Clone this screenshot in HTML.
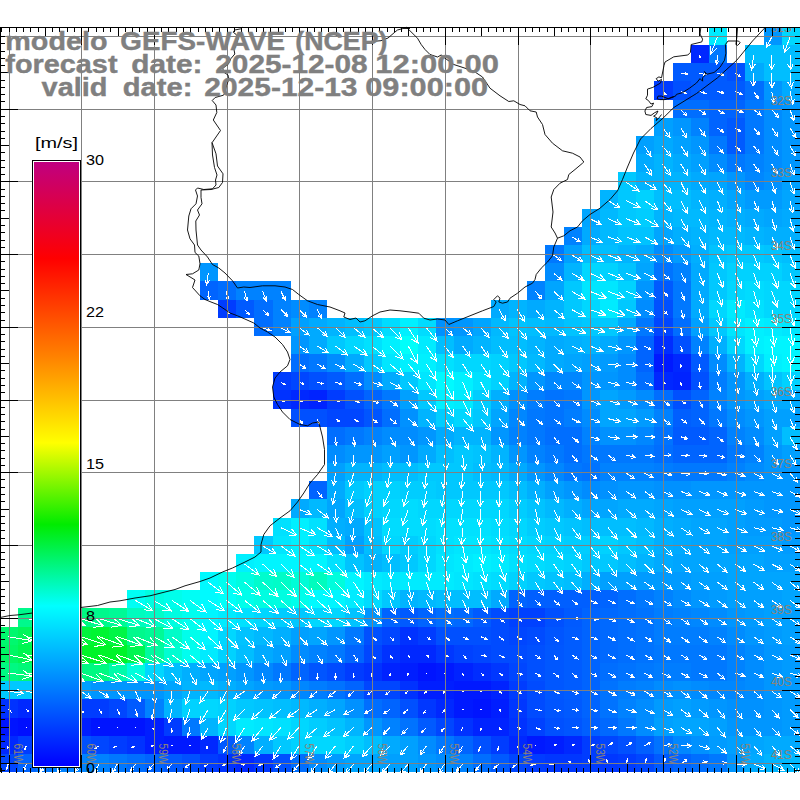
<!DOCTYPE html><html><head><meta charset="utf-8"><title>GEFS-WAVE</title><style>html,body{margin:0;padding:0;background:#fff;width:800px;height:800px;overflow:hidden;font-family:"Liberation Sans",sans-serif}</style></head><body><svg width="800" height="800" viewBox="0 0 800 800" style="position:absolute;left:0;top:0">
<rect width="800" height="800" fill="#fff"/>
<g shape-rendering="crispEdges">
<rect x="709" y="27" width="18" height="18" fill="#00ebff"/>
<rect x="764" y="27" width="18" height="18" fill="#0096ff"/>
<rect x="782" y="27" width="18" height="18" fill="#00d7ff"/>
<rect x="691" y="45" width="18" height="18" fill="#0028ff"/>
<rect x="709" y="45" width="18" height="18" fill="#0078ff"/>
<rect x="745" y="45" width="55" height="18" fill="#00beff"/>
<rect x="673" y="63" width="54" height="18" fill="#005aff"/>
<rect x="727" y="63" width="18" height="18" fill="#0050ff"/>
<rect x="745" y="63" width="19" height="18" fill="#00aaff"/>
<rect x="764" y="63" width="36" height="18" fill="#00beff"/>
<rect x="654" y="81" width="19" height="19" fill="#003cff"/>
<rect x="673" y="81" width="18" height="19" fill="#0050ff"/>
<rect x="691" y="81" width="54" height="19" fill="#005aff"/>
<rect x="745" y="81" width="19" height="19" fill="#006eff"/>
<rect x="764" y="81" width="18" height="19" fill="#0096ff"/>
<rect x="782" y="81" width="18" height="19" fill="#00aaff"/>
<rect x="673" y="100" width="36" height="18" fill="#006eff"/>
<rect x="709" y="100" width="36" height="18" fill="#0064ff"/>
<rect x="745" y="100" width="19" height="18" fill="#0078ff"/>
<rect x="764" y="100" width="18" height="18" fill="#008cff"/>
<rect x="782" y="100" width="18" height="18" fill="#0096ff"/>
<rect x="654" y="118" width="19" height="18" fill="#00a0ff"/>
<rect x="673" y="118" width="18" height="18" fill="#0096ff"/>
<rect x="691" y="118" width="18" height="18" fill="#0082ff"/>
<rect x="709" y="118" width="18" height="18" fill="#0064ff"/>
<rect x="727" y="118" width="18" height="18" fill="#005aff"/>
<rect x="745" y="118" width="19" height="18" fill="#0078ff"/>
<rect x="764" y="118" width="18" height="18" fill="#008cff"/>
<rect x="782" y="118" width="18" height="18" fill="#0096ff"/>
<rect x="636" y="136" width="18" height="18" fill="#00a0ff"/>
<rect x="654" y="136" width="19" height="18" fill="#00aaff"/>
<rect x="673" y="136" width="18" height="18" fill="#00a0ff"/>
<rect x="691" y="136" width="18" height="18" fill="#0096ff"/>
<rect x="709" y="136" width="18" height="18" fill="#0078ff"/>
<rect x="727" y="136" width="18" height="18" fill="#005aff"/>
<rect x="745" y="136" width="19" height="18" fill="#0078ff"/>
<rect x="764" y="136" width="18" height="18" fill="#008cff"/>
<rect x="782" y="136" width="18" height="18" fill="#0096ff"/>
<rect x="636" y="154" width="18" height="18" fill="#00aaff"/>
<rect x="654" y="154" width="19" height="18" fill="#00b4ff"/>
<rect x="673" y="154" width="18" height="18" fill="#00aaff"/>
<rect x="691" y="154" width="18" height="18" fill="#00a0ff"/>
<rect x="709" y="154" width="18" height="18" fill="#008cff"/>
<rect x="727" y="154" width="18" height="18" fill="#0078ff"/>
<rect x="745" y="154" width="19" height="18" fill="#0082ff"/>
<rect x="764" y="154" width="18" height="18" fill="#008cff"/>
<rect x="782" y="154" width="18" height="18" fill="#0096ff"/>
<rect x="618" y="172" width="18" height="18" fill="#00c8ff"/>
<rect x="636" y="172" width="55" height="18" fill="#00b4ff"/>
<rect x="691" y="172" width="18" height="18" fill="#00aaff"/>
<rect x="709" y="172" width="18" height="18" fill="#00a5ff"/>
<rect x="727" y="172" width="18" height="18" fill="#0096ff"/>
<rect x="745" y="172" width="19" height="18" fill="#0087ff"/>
<rect x="764" y="172" width="18" height="18" fill="#0091ff"/>
<rect x="782" y="172" width="18" height="18" fill="#00a0ff"/>
<rect x="600" y="190" width="18" height="19" fill="#00b4ff"/>
<rect x="618" y="190" width="18" height="19" fill="#00c8ff"/>
<rect x="636" y="190" width="18" height="19" fill="#00d2ff"/>
<rect x="654" y="190" width="37" height="19" fill="#00beff"/>
<rect x="691" y="190" width="18" height="19" fill="#00b4ff"/>
<rect x="709" y="190" width="18" height="19" fill="#00afff"/>
<rect x="727" y="190" width="18" height="19" fill="#00a5ff"/>
<rect x="745" y="190" width="37" height="19" fill="#009bff"/>
<rect x="782" y="190" width="18" height="19" fill="#00a5ff"/>
<rect x="582" y="209" width="18" height="18" fill="#00a5ff"/>
<rect x="600" y="209" width="18" height="18" fill="#00b9ff"/>
<rect x="618" y="209" width="18" height="18" fill="#00c8ff"/>
<rect x="636" y="209" width="18" height="18" fill="#00cdff"/>
<rect x="654" y="209" width="19" height="18" fill="#00b4ff"/>
<rect x="673" y="209" width="36" height="18" fill="#00b9ff"/>
<rect x="709" y="209" width="18" height="18" fill="#00b4ff"/>
<rect x="727" y="209" width="18" height="18" fill="#00afff"/>
<rect x="745" y="209" width="19" height="18" fill="#00aaff"/>
<rect x="764" y="209" width="18" height="18" fill="#00a5ff"/>
<rect x="782" y="209" width="18" height="18" fill="#00aaff"/>
<rect x="564" y="227" width="18" height="18" fill="#0082ff"/>
<rect x="582" y="227" width="18" height="18" fill="#00aaff"/>
<rect x="600" y="227" width="18" height="18" fill="#00b9ff"/>
<rect x="618" y="227" width="36" height="18" fill="#00c3ff"/>
<rect x="654" y="227" width="19" height="18" fill="#00a5ff"/>
<rect x="673" y="227" width="18" height="18" fill="#00afff"/>
<rect x="691" y="227" width="18" height="18" fill="#00b4ff"/>
<rect x="709" y="227" width="36" height="18" fill="#00b9ff"/>
<rect x="745" y="227" width="19" height="18" fill="#00b4ff"/>
<rect x="764" y="227" width="36" height="18" fill="#00afff"/>
<rect x="545" y="245" width="19" height="18" fill="#0078ff"/>
<rect x="564" y="245" width="18" height="18" fill="#00a0ff"/>
<rect x="582" y="245" width="36" height="18" fill="#00beff"/>
<rect x="618" y="245" width="18" height="18" fill="#00b4ff"/>
<rect x="636" y="245" width="18" height="18" fill="#00aaff"/>
<rect x="654" y="245" width="19" height="18" fill="#008cff"/>
<rect x="673" y="245" width="18" height="18" fill="#009bff"/>
<rect x="691" y="245" width="18" height="18" fill="#00afff"/>
<rect x="709" y="245" width="18" height="18" fill="#00c3ff"/>
<rect x="727" y="245" width="37" height="18" fill="#00c8ff"/>
<rect x="764" y="245" width="18" height="18" fill="#00c3ff"/>
<rect x="782" y="245" width="18" height="18" fill="#00beff"/>
<rect x="200" y="263" width="18" height="18" fill="#0096ff"/>
<rect x="545" y="263" width="19" height="18" fill="#008cff"/>
<rect x="564" y="263" width="18" height="18" fill="#00b4ff"/>
<rect x="582" y="263" width="18" height="18" fill="#00d7ff"/>
<rect x="600" y="263" width="18" height="18" fill="#00d2ff"/>
<rect x="618" y="263" width="18" height="18" fill="#00c3ff"/>
<rect x="636" y="263" width="18" height="18" fill="#00a5ff"/>
<rect x="654" y="263" width="19" height="18" fill="#0073ff"/>
<rect x="673" y="263" width="18" height="18" fill="#0082ff"/>
<rect x="691" y="263" width="18" height="18" fill="#00aaff"/>
<rect x="709" y="263" width="18" height="18" fill="#00c8ff"/>
<rect x="727" y="263" width="55" height="18" fill="#00d2ff"/>
<rect x="782" y="263" width="18" height="18" fill="#00c8ff"/>
<rect x="200" y="281" width="18" height="19" fill="#0064ff"/>
<rect x="218" y="281" width="18" height="19" fill="#006eff"/>
<rect x="236" y="281" width="55" height="19" fill="#0082ff"/>
<rect x="527" y="281" width="18" height="19" fill="#0082ff"/>
<rect x="545" y="281" width="19" height="19" fill="#00a5ff"/>
<rect x="564" y="281" width="18" height="19" fill="#00c8ff"/>
<rect x="582" y="281" width="36" height="19" fill="#00e6ff"/>
<rect x="618" y="281" width="18" height="19" fill="#00d2ff"/>
<rect x="636" y="281" width="18" height="19" fill="#0096ff"/>
<rect x="654" y="281" width="19" height="19" fill="#005aff"/>
<rect x="673" y="281" width="18" height="19" fill="#0078ff"/>
<rect x="691" y="281" width="18" height="19" fill="#00aaff"/>
<rect x="709" y="281" width="18" height="19" fill="#00c8ff"/>
<rect x="727" y="281" width="18" height="19" fill="#00d7ff"/>
<rect x="745" y="281" width="19" height="19" fill="#00dcff"/>
<rect x="764" y="281" width="36" height="19" fill="#00d7ff"/>
<rect x="218" y="300" width="18" height="18" fill="#003cff"/>
<rect x="236" y="300" width="18" height="18" fill="#005aff"/>
<rect x="254" y="300" width="19" height="18" fill="#006eff"/>
<rect x="273" y="300" width="18" height="18" fill="#0082ff"/>
<rect x="291" y="300" width="18" height="18" fill="#008cff"/>
<rect x="309" y="300" width="18" height="18" fill="#0082ff"/>
<rect x="491" y="300" width="18" height="18" fill="#00aaff"/>
<rect x="509" y="300" width="18" height="18" fill="#00b4ff"/>
<rect x="527" y="300" width="18" height="18" fill="#00aaff"/>
<rect x="545" y="300" width="19" height="18" fill="#00b4ff"/>
<rect x="564" y="300" width="18" height="18" fill="#00c8ff"/>
<rect x="582" y="300" width="18" height="18" fill="#00d7ff"/>
<rect x="600" y="300" width="18" height="18" fill="#00ebff"/>
<rect x="618" y="300" width="18" height="18" fill="#00c8ff"/>
<rect x="636" y="300" width="18" height="18" fill="#008cff"/>
<rect x="654" y="300" width="19" height="18" fill="#0050ff"/>
<rect x="673" y="300" width="18" height="18" fill="#0078ff"/>
<rect x="691" y="300" width="18" height="18" fill="#00aaff"/>
<rect x="709" y="300" width="18" height="18" fill="#00d7ff"/>
<rect x="727" y="300" width="18" height="18" fill="#00ebff"/>
<rect x="745" y="300" width="19" height="18" fill="#00e1ff"/>
<rect x="764" y="300" width="36" height="18" fill="#00d7ff"/>
<rect x="254" y="318" width="19" height="18" fill="#006eff"/>
<rect x="273" y="318" width="18" height="18" fill="#0082ff"/>
<rect x="291" y="318" width="18" height="18" fill="#00a0ff"/>
<rect x="309" y="318" width="18" height="18" fill="#00aaff"/>
<rect x="327" y="318" width="18" height="18" fill="#00b4ff"/>
<rect x="345" y="318" width="19" height="18" fill="#00beff"/>
<rect x="364" y="318" width="18" height="18" fill="#00c8ff"/>
<rect x="382" y="318" width="18" height="18" fill="#00dcff"/>
<rect x="400" y="318" width="18" height="18" fill="#00f0ff"/>
<rect x="418" y="318" width="18" height="18" fill="#00dcff"/>
<rect x="436" y="318" width="18" height="18" fill="#0091ff"/>
<rect x="454" y="318" width="19" height="18" fill="#0096ff"/>
<rect x="473" y="318" width="18" height="18" fill="#00a5ff"/>
<rect x="491" y="318" width="18" height="18" fill="#00b9ff"/>
<rect x="509" y="318" width="18" height="18" fill="#00c3ff"/>
<rect x="527" y="318" width="18" height="18" fill="#00beff"/>
<rect x="545" y="318" width="19" height="18" fill="#00b9ff"/>
<rect x="564" y="318" width="18" height="18" fill="#00c3ff"/>
<rect x="582" y="318" width="36" height="18" fill="#00c8ff"/>
<rect x="618" y="318" width="18" height="18" fill="#00aaff"/>
<rect x="636" y="318" width="18" height="18" fill="#0078ff"/>
<rect x="654" y="318" width="19" height="18" fill="#0046ff"/>
<rect x="673" y="318" width="18" height="18" fill="#006eff"/>
<rect x="691" y="318" width="18" height="18" fill="#00a0ff"/>
<rect x="709" y="318" width="18" height="18" fill="#00c8ff"/>
<rect x="727" y="318" width="18" height="18" fill="#00e6ff"/>
<rect x="745" y="318" width="19" height="18" fill="#00f0ff"/>
<rect x="764" y="318" width="18" height="18" fill="#00ebff"/>
<rect x="782" y="318" width="18" height="18" fill="#00e6ff"/>
<rect x="291" y="336" width="18" height="18" fill="#0096ff"/>
<rect x="309" y="336" width="18" height="18" fill="#00aaff"/>
<rect x="327" y="336" width="18" height="18" fill="#00c8ff"/>
<rect x="345" y="336" width="19" height="18" fill="#00d7ff"/>
<rect x="364" y="336" width="18" height="18" fill="#00e1ff"/>
<rect x="382" y="336" width="18" height="18" fill="#00f0ff"/>
<rect x="400" y="336" width="18" height="18" fill="#00fffa"/>
<rect x="418" y="336" width="18" height="18" fill="#00ebff"/>
<rect x="436" y="336" width="18" height="18" fill="#00beff"/>
<rect x="454" y="336" width="19" height="18" fill="#00aaff"/>
<rect x="473" y="336" width="18" height="18" fill="#00b4ff"/>
<rect x="491" y="336" width="36" height="18" fill="#00beff"/>
<rect x="527" y="336" width="18" height="18" fill="#00b4ff"/>
<rect x="545" y="336" width="19" height="18" fill="#00aaff"/>
<rect x="564" y="336" width="18" height="18" fill="#00afff"/>
<rect x="582" y="336" width="18" height="18" fill="#00b4ff"/>
<rect x="600" y="336" width="18" height="18" fill="#00aaff"/>
<rect x="618" y="336" width="18" height="18" fill="#0096ff"/>
<rect x="636" y="336" width="18" height="18" fill="#0064ff"/>
<rect x="654" y="336" width="19" height="18" fill="#002dff"/>
<rect x="673" y="336" width="18" height="18" fill="#0050ff"/>
<rect x="691" y="336" width="18" height="18" fill="#0082ff"/>
<rect x="709" y="336" width="18" height="18" fill="#00afff"/>
<rect x="727" y="336" width="18" height="18" fill="#00d7ff"/>
<rect x="745" y="336" width="19" height="18" fill="#00f0ff"/>
<rect x="764" y="336" width="36" height="18" fill="#00f5ff"/>
<rect x="291" y="354" width="18" height="18" fill="#006eff"/>
<rect x="309" y="354" width="18" height="18" fill="#0078ff"/>
<rect x="327" y="354" width="18" height="18" fill="#008cff"/>
<rect x="345" y="354" width="19" height="18" fill="#00aaff"/>
<rect x="364" y="354" width="18" height="18" fill="#00c8ff"/>
<rect x="382" y="354" width="18" height="18" fill="#00e6ff"/>
<rect x="400" y="354" width="36" height="18" fill="#00f0ff"/>
<rect x="436" y="354" width="18" height="18" fill="#00e1ff"/>
<rect x="454" y="354" width="37" height="18" fill="#00d7ff"/>
<rect x="491" y="354" width="18" height="18" fill="#00d2ff"/>
<rect x="509" y="354" width="18" height="18" fill="#00c8ff"/>
<rect x="527" y="354" width="18" height="18" fill="#00b9ff"/>
<rect x="545" y="354" width="19" height="18" fill="#00aaff"/>
<rect x="564" y="354" width="18" height="18" fill="#00a5ff"/>
<rect x="582" y="354" width="18" height="18" fill="#00a0ff"/>
<rect x="600" y="354" width="18" height="18" fill="#009bff"/>
<rect x="618" y="354" width="18" height="18" fill="#008cff"/>
<rect x="636" y="354" width="18" height="18" fill="#0064ff"/>
<rect x="654" y="354" width="19" height="18" fill="#0019ff"/>
<rect x="673" y="354" width="18" height="18" fill="#0028ff"/>
<rect x="691" y="354" width="18" height="18" fill="#005aff"/>
<rect x="709" y="354" width="18" height="18" fill="#008cff"/>
<rect x="727" y="354" width="18" height="18" fill="#00b4ff"/>
<rect x="745" y="354" width="19" height="18" fill="#00d7ff"/>
<rect x="764" y="354" width="18" height="18" fill="#00f0ff"/>
<rect x="782" y="354" width="18" height="18" fill="#00f5ff"/>
<rect x="273" y="372" width="18" height="18" fill="#003cff"/>
<rect x="291" y="372" width="18" height="18" fill="#0046ff"/>
<rect x="309" y="372" width="18" height="18" fill="#0050ff"/>
<rect x="327" y="372" width="18" height="18" fill="#005aff"/>
<rect x="345" y="372" width="19" height="18" fill="#006eff"/>
<rect x="364" y="372" width="18" height="18" fill="#008cff"/>
<rect x="382" y="372" width="18" height="18" fill="#00aaff"/>
<rect x="400" y="372" width="18" height="18" fill="#00c8ff"/>
<rect x="418" y="372" width="18" height="18" fill="#00e6ff"/>
<rect x="436" y="372" width="18" height="18" fill="#00faff"/>
<rect x="454" y="372" width="19" height="18" fill="#00f0ff"/>
<rect x="473" y="372" width="18" height="18" fill="#00e1ff"/>
<rect x="491" y="372" width="18" height="18" fill="#00d2ff"/>
<rect x="509" y="372" width="18" height="18" fill="#00b4ff"/>
<rect x="527" y="372" width="18" height="18" fill="#0096ff"/>
<rect x="545" y="372" width="37" height="18" fill="#0087ff"/>
<rect x="582" y="372" width="36" height="18" fill="#0096ff"/>
<rect x="618" y="372" width="18" height="18" fill="#008cff"/>
<rect x="636" y="372" width="18" height="18" fill="#006eff"/>
<rect x="654" y="372" width="19" height="18" fill="#0028ff"/>
<rect x="673" y="372" width="18" height="18" fill="#0023ff"/>
<rect x="691" y="372" width="18" height="18" fill="#0050ff"/>
<rect x="709" y="372" width="18" height="18" fill="#007dff"/>
<rect x="727" y="372" width="18" height="18" fill="#0096ff"/>
<rect x="745" y="372" width="19" height="18" fill="#00afff"/>
<rect x="764" y="372" width="18" height="18" fill="#00c3ff"/>
<rect x="782" y="372" width="18" height="18" fill="#00d2ff"/>
<rect x="273" y="390" width="18" height="19" fill="#0032ff"/>
<rect x="291" y="390" width="18" height="19" fill="#0028ff"/>
<rect x="309" y="390" width="18" height="19" fill="#0023ff"/>
<rect x="327" y="390" width="18" height="19" fill="#003cff"/>
<rect x="345" y="390" width="19" height="19" fill="#0050ff"/>
<rect x="364" y="390" width="18" height="19" fill="#0064ff"/>
<rect x="382" y="390" width="18" height="19" fill="#0078ff"/>
<rect x="400" y="390" width="18" height="19" fill="#00a0ff"/>
<rect x="418" y="390" width="18" height="19" fill="#00c8ff"/>
<rect x="436" y="390" width="18" height="19" fill="#00f0ff"/>
<rect x="454" y="390" width="19" height="19" fill="#00ebff"/>
<rect x="473" y="390" width="18" height="19" fill="#00cdff"/>
<rect x="491" y="390" width="18" height="19" fill="#00afff"/>
<rect x="509" y="390" width="18" height="19" fill="#0091ff"/>
<rect x="527" y="390" width="18" height="19" fill="#007dff"/>
<rect x="545" y="390" width="19" height="19" fill="#0073ff"/>
<rect x="564" y="390" width="18" height="19" fill="#0078ff"/>
<rect x="582" y="390" width="18" height="19" fill="#0096ff"/>
<rect x="600" y="390" width="18" height="19" fill="#00a5ff"/>
<rect x="618" y="390" width="18" height="19" fill="#009bff"/>
<rect x="636" y="390" width="18" height="19" fill="#008cff"/>
<rect x="654" y="390" width="19" height="19" fill="#006eff"/>
<rect x="673" y="390" width="18" height="19" fill="#0050ff"/>
<rect x="691" y="390" width="18" height="19" fill="#0064ff"/>
<rect x="709" y="390" width="18" height="19" fill="#0082ff"/>
<rect x="727" y="390" width="18" height="19" fill="#0096ff"/>
<rect x="745" y="390" width="19" height="19" fill="#00a0ff"/>
<rect x="764" y="390" width="36" height="19" fill="#00aaff"/>
<rect x="291" y="409" width="36" height="18" fill="#0050ff"/>
<rect x="327" y="409" width="37" height="18" fill="#0046ff"/>
<rect x="364" y="409" width="18" height="18" fill="#0055ff"/>
<rect x="382" y="409" width="18" height="18" fill="#006eff"/>
<rect x="400" y="409" width="18" height="18" fill="#0091ff"/>
<rect x="418" y="409" width="18" height="18" fill="#00b4ff"/>
<rect x="436" y="409" width="18" height="18" fill="#00cdff"/>
<rect x="454" y="409" width="19" height="18" fill="#00d7ff"/>
<rect x="473" y="409" width="18" height="18" fill="#00c8ff"/>
<rect x="491" y="409" width="18" height="18" fill="#00a5ff"/>
<rect x="509" y="409" width="18" height="18" fill="#0087ff"/>
<rect x="527" y="409" width="18" height="18" fill="#0078ff"/>
<rect x="545" y="409" width="19" height="18" fill="#0073ff"/>
<rect x="564" y="409" width="18" height="18" fill="#007dff"/>
<rect x="582" y="409" width="18" height="18" fill="#008cff"/>
<rect x="600" y="409" width="36" height="18" fill="#00a5ff"/>
<rect x="636" y="409" width="18" height="18" fill="#009bff"/>
<rect x="654" y="409" width="19" height="18" fill="#0082ff"/>
<rect x="673" y="409" width="18" height="18" fill="#005fff"/>
<rect x="691" y="409" width="18" height="18" fill="#0064ff"/>
<rect x="709" y="409" width="18" height="18" fill="#0078ff"/>
<rect x="727" y="409" width="18" height="18" fill="#008cff"/>
<rect x="745" y="409" width="19" height="18" fill="#0096ff"/>
<rect x="764" y="409" width="36" height="18" fill="#00a0ff"/>
<rect x="327" y="427" width="18" height="18" fill="#006eff"/>
<rect x="345" y="427" width="19" height="18" fill="#0078ff"/>
<rect x="364" y="427" width="18" height="18" fill="#0082ff"/>
<rect x="382" y="427" width="36" height="18" fill="#008cff"/>
<rect x="418" y="427" width="18" height="18" fill="#0096ff"/>
<rect x="436" y="427" width="18" height="18" fill="#00aaff"/>
<rect x="454" y="427" width="37" height="18" fill="#00b4ff"/>
<rect x="491" y="427" width="18" height="18" fill="#0096ff"/>
<rect x="509" y="427" width="18" height="18" fill="#0082ff"/>
<rect x="527" y="427" width="18" height="18" fill="#0078ff"/>
<rect x="545" y="427" width="37" height="18" fill="#006eff"/>
<rect x="582" y="427" width="18" height="18" fill="#0082ff"/>
<rect x="600" y="427" width="36" height="18" fill="#0091ff"/>
<rect x="636" y="427" width="18" height="18" fill="#0087ff"/>
<rect x="654" y="427" width="19" height="18" fill="#0073ff"/>
<rect x="673" y="427" width="36" height="18" fill="#005aff"/>
<rect x="709" y="427" width="18" height="18" fill="#0064ff"/>
<rect x="727" y="427" width="18" height="18" fill="#0082ff"/>
<rect x="745" y="427" width="19" height="18" fill="#008cff"/>
<rect x="764" y="427" width="18" height="18" fill="#00a0ff"/>
<rect x="782" y="427" width="18" height="18" fill="#00beff"/>
<rect x="327" y="445" width="18" height="18" fill="#008cff"/>
<rect x="345" y="445" width="37" height="18" fill="#0096ff"/>
<rect x="382" y="445" width="18" height="18" fill="#00a0ff"/>
<rect x="400" y="445" width="18" height="18" fill="#0096ff"/>
<rect x="418" y="445" width="18" height="18" fill="#00aaff"/>
<rect x="436" y="445" width="18" height="18" fill="#00beff"/>
<rect x="454" y="445" width="19" height="18" fill="#00c8ff"/>
<rect x="473" y="445" width="18" height="18" fill="#00c3ff"/>
<rect x="491" y="445" width="18" height="18" fill="#00b4ff"/>
<rect x="509" y="445" width="18" height="18" fill="#0096ff"/>
<rect x="527" y="445" width="18" height="18" fill="#0082ff"/>
<rect x="545" y="445" width="19" height="18" fill="#0078ff"/>
<rect x="564" y="445" width="18" height="18" fill="#006eff"/>
<rect x="582" y="445" width="72" height="18" fill="#0078ff"/>
<rect x="654" y="445" width="19" height="18" fill="#006eff"/>
<rect x="673" y="445" width="54" height="18" fill="#0064ff"/>
<rect x="727" y="445" width="18" height="18" fill="#0078ff"/>
<rect x="745" y="445" width="19" height="18" fill="#0082ff"/>
<rect x="764" y="445" width="18" height="18" fill="#0096ff"/>
<rect x="782" y="445" width="18" height="18" fill="#00a0ff"/>
<rect x="327" y="463" width="18" height="18" fill="#00a0ff"/>
<rect x="345" y="463" width="37" height="18" fill="#00b4ff"/>
<rect x="382" y="463" width="36" height="18" fill="#00beff"/>
<rect x="418" y="463" width="55" height="18" fill="#00c8ff"/>
<rect x="473" y="463" width="18" height="18" fill="#00beff"/>
<rect x="491" y="463" width="18" height="18" fill="#00b9ff"/>
<rect x="509" y="463" width="18" height="18" fill="#00aaff"/>
<rect x="527" y="463" width="18" height="18" fill="#0096ff"/>
<rect x="545" y="463" width="19" height="18" fill="#0087ff"/>
<rect x="564" y="463" width="18" height="18" fill="#0078ff"/>
<rect x="582" y="463" width="18" height="18" fill="#0073ff"/>
<rect x="600" y="463" width="54" height="18" fill="#0082ff"/>
<rect x="654" y="463" width="19" height="18" fill="#007dff"/>
<rect x="673" y="463" width="54" height="18" fill="#0078ff"/>
<rect x="727" y="463" width="18" height="18" fill="#0082ff"/>
<rect x="745" y="463" width="19" height="18" fill="#008cff"/>
<rect x="764" y="463" width="36" height="18" fill="#0096ff"/>
<rect x="309" y="481" width="18" height="18" fill="#0064ff"/>
<rect x="327" y="481" width="18" height="18" fill="#00aaff"/>
<rect x="345" y="481" width="19" height="18" fill="#00c8ff"/>
<rect x="364" y="481" width="36" height="18" fill="#00d2ff"/>
<rect x="400" y="481" width="36" height="18" fill="#00cdff"/>
<rect x="436" y="481" width="73" height="18" fill="#00c8ff"/>
<rect x="509" y="481" width="18" height="18" fill="#00beff"/>
<rect x="527" y="481" width="18" height="18" fill="#00afff"/>
<rect x="545" y="481" width="19" height="18" fill="#00a0ff"/>
<rect x="564" y="481" width="18" height="18" fill="#0096ff"/>
<rect x="582" y="481" width="18" height="18" fill="#008cff"/>
<rect x="600" y="481" width="18" height="18" fill="#0091ff"/>
<rect x="618" y="481" width="36" height="18" fill="#0096ff"/>
<rect x="654" y="481" width="37" height="18" fill="#0091ff"/>
<rect x="691" y="481" width="109" height="18" fill="#0096ff"/>
<rect x="291" y="499" width="18" height="19" fill="#00aaff"/>
<rect x="309" y="499" width="18" height="19" fill="#00b9ff"/>
<rect x="327" y="499" width="18" height="19" fill="#00a5ff"/>
<rect x="345" y="499" width="19" height="19" fill="#00beff"/>
<rect x="364" y="499" width="18" height="19" fill="#00d2ff"/>
<rect x="382" y="499" width="18" height="19" fill="#00d7ff"/>
<rect x="400" y="499" width="18" height="19" fill="#00dcff"/>
<rect x="418" y="499" width="91" height="19" fill="#00d7ff"/>
<rect x="509" y="499" width="18" height="19" fill="#00cdff"/>
<rect x="527" y="499" width="18" height="19" fill="#00c3ff"/>
<rect x="545" y="499" width="19" height="19" fill="#00b9ff"/>
<rect x="564" y="499" width="18" height="19" fill="#00afff"/>
<rect x="582" y="499" width="36" height="19" fill="#00a5ff"/>
<rect x="618" y="499" width="36" height="19" fill="#00aaff"/>
<rect x="654" y="499" width="19" height="19" fill="#00a5ff"/>
<rect x="673" y="499" width="72" height="19" fill="#00a0ff"/>
<rect x="745" y="499" width="19" height="19" fill="#009bff"/>
<rect x="764" y="499" width="36" height="19" fill="#0096ff"/>
<rect x="273" y="518" width="18" height="18" fill="#00e1ff"/>
<rect x="291" y="518" width="18" height="18" fill="#00f0ff"/>
<rect x="309" y="518" width="18" height="18" fill="#00e1ff"/>
<rect x="327" y="518" width="18" height="18" fill="#00afff"/>
<rect x="345" y="518" width="19" height="18" fill="#00aaff"/>
<rect x="364" y="518" width="18" height="18" fill="#00c3ff"/>
<rect x="382" y="518" width="54" height="18" fill="#00dcff"/>
<rect x="436" y="518" width="55" height="18" fill="#00e1ff"/>
<rect x="491" y="518" width="18" height="18" fill="#00dcff"/>
<rect x="509" y="518" width="18" height="18" fill="#00d7ff"/>
<rect x="527" y="518" width="18" height="18" fill="#00cdff"/>
<rect x="545" y="518" width="19" height="18" fill="#00c8ff"/>
<rect x="564" y="518" width="18" height="18" fill="#00c3ff"/>
<rect x="582" y="518" width="54" height="18" fill="#00beff"/>
<rect x="636" y="518" width="18" height="18" fill="#00b9ff"/>
<rect x="654" y="518" width="19" height="18" fill="#00afff"/>
<rect x="673" y="518" width="18" height="18" fill="#00aaff"/>
<rect x="691" y="518" width="36" height="18" fill="#00a5ff"/>
<rect x="727" y="518" width="18" height="18" fill="#00a0ff"/>
<rect x="745" y="518" width="37" height="18" fill="#009bff"/>
<rect x="782" y="518" width="18" height="18" fill="#0096ff"/>
<rect x="254" y="536" width="19" height="18" fill="#00c8ff"/>
<rect x="273" y="536" width="18" height="18" fill="#00e6ff"/>
<rect x="291" y="536" width="18" height="18" fill="#00f0ff"/>
<rect x="309" y="536" width="18" height="18" fill="#00e1ff"/>
<rect x="327" y="536" width="18" height="18" fill="#00beff"/>
<rect x="345" y="536" width="19" height="18" fill="#00a0ff"/>
<rect x="364" y="536" width="18" height="18" fill="#00beff"/>
<rect x="382" y="536" width="18" height="18" fill="#00d7ff"/>
<rect x="400" y="536" width="18" height="18" fill="#00cdff"/>
<rect x="418" y="536" width="18" height="18" fill="#00d7ff"/>
<rect x="436" y="536" width="18" height="18" fill="#00e1ff"/>
<rect x="454" y="536" width="37" height="18" fill="#00e6ff"/>
<rect x="491" y="536" width="18" height="18" fill="#00e1ff"/>
<rect x="509" y="536" width="18" height="18" fill="#00dcff"/>
<rect x="527" y="536" width="18" height="18" fill="#00d7ff"/>
<rect x="545" y="536" width="19" height="18" fill="#00d2ff"/>
<rect x="564" y="536" width="36" height="18" fill="#00cdff"/>
<rect x="600" y="536" width="18" height="18" fill="#00d2ff"/>
<rect x="618" y="536" width="18" height="18" fill="#00c8ff"/>
<rect x="636" y="536" width="18" height="18" fill="#00beff"/>
<rect x="654" y="536" width="19" height="18" fill="#00afff"/>
<rect x="673" y="536" width="18" height="18" fill="#00aaff"/>
<rect x="691" y="536" width="36" height="18" fill="#00a5ff"/>
<rect x="727" y="536" width="55" height="18" fill="#00a0ff"/>
<rect x="782" y="536" width="18" height="18" fill="#009bff"/>
<rect x="236" y="554" width="18" height="18" fill="#00f0ff"/>
<rect x="254" y="554" width="73" height="18" fill="#00f5ff"/>
<rect x="327" y="554" width="18" height="18" fill="#00e1ff"/>
<rect x="345" y="554" width="19" height="18" fill="#00c3ff"/>
<rect x="364" y="554" width="18" height="18" fill="#00b4ff"/>
<rect x="382" y="554" width="18" height="18" fill="#00beff"/>
<rect x="400" y="554" width="18" height="18" fill="#00c8ff"/>
<rect x="418" y="554" width="18" height="18" fill="#00d7ff"/>
<rect x="436" y="554" width="18" height="18" fill="#00e6ff"/>
<rect x="454" y="554" width="19" height="18" fill="#00ebff"/>
<rect x="473" y="554" width="18" height="18" fill="#00f0ff"/>
<rect x="491" y="554" width="18" height="18" fill="#00ebff"/>
<rect x="509" y="554" width="18" height="18" fill="#00e1ff"/>
<rect x="527" y="554" width="18" height="18" fill="#00dcff"/>
<rect x="545" y="554" width="19" height="18" fill="#00d7ff"/>
<rect x="564" y="554" width="18" height="18" fill="#00d2ff"/>
<rect x="582" y="554" width="36" height="18" fill="#00c8ff"/>
<rect x="618" y="554" width="18" height="18" fill="#00beff"/>
<rect x="636" y="554" width="18" height="18" fill="#00b4ff"/>
<rect x="654" y="554" width="19" height="18" fill="#00aaff"/>
<rect x="673" y="554" width="91" height="18" fill="#00a5ff"/>
<rect x="764" y="554" width="36" height="18" fill="#00a0ff"/>
<rect x="200" y="572" width="18" height="18" fill="#00faff"/>
<rect x="218" y="572" width="18" height="18" fill="#00fef0"/>
<rect x="236" y="572" width="18" height="18" fill="#00fde1"/>
<rect x="254" y="572" width="19" height="18" fill="#00fccd"/>
<rect x="273" y="572" width="18" height="18" fill="#00fcc8"/>
<rect x="291" y="572" width="18" height="18" fill="#00fdd7"/>
<rect x="309" y="572" width="18" height="18" fill="#00fcbe"/>
<rect x="327" y="572" width="18" height="18" fill="#00fddc"/>
<rect x="345" y="572" width="19" height="18" fill="#00f5ff"/>
<rect x="364" y="572" width="18" height="18" fill="#00ebff"/>
<rect x="382" y="572" width="18" height="18" fill="#00e6ff"/>
<rect x="400" y="572" width="54" height="18" fill="#00ebff"/>
<rect x="454" y="572" width="19" height="18" fill="#00e6ff"/>
<rect x="473" y="572" width="18" height="18" fill="#00e1ff"/>
<rect x="491" y="572" width="18" height="18" fill="#00dcff"/>
<rect x="509" y="572" width="18" height="18" fill="#00d2ff"/>
<rect x="527" y="572" width="18" height="18" fill="#00c8ff"/>
<rect x="545" y="572" width="19" height="18" fill="#00c3ff"/>
<rect x="564" y="572" width="18" height="18" fill="#00beff"/>
<rect x="582" y="572" width="18" height="18" fill="#00afff"/>
<rect x="600" y="572" width="36" height="18" fill="#00a0ff"/>
<rect x="636" y="572" width="55" height="18" fill="#009bff"/>
<rect x="691" y="572" width="36" height="18" fill="#00a0ff"/>
<rect x="727" y="572" width="73" height="18" fill="#00a5ff"/>
<rect x="127" y="590" width="18" height="18" fill="#00fef5"/>
<rect x="145" y="590" width="19" height="18" fill="#00fde1"/>
<rect x="164" y="590" width="18" height="18" fill="#00feeb"/>
<rect x="182" y="590" width="18" height="18" fill="#00fef5"/>
<rect x="200" y="590" width="18" height="18" fill="#00faff"/>
<rect x="218" y="590" width="18" height="18" fill="#00fffa"/>
<rect x="236" y="590" width="18" height="18" fill="#00feeb"/>
<rect x="254" y="590" width="37" height="18" fill="#00fde1"/>
<rect x="291" y="590" width="18" height="18" fill="#00feeb"/>
<rect x="309" y="590" width="18" height="18" fill="#00faff"/>
<rect x="327" y="590" width="18" height="18" fill="#00f5ff"/>
<rect x="345" y="590" width="19" height="18" fill="#00ebff"/>
<rect x="364" y="590" width="18" height="18" fill="#00dcff"/>
<rect x="382" y="590" width="18" height="18" fill="#00c8ff"/>
<rect x="400" y="590" width="18" height="18" fill="#00b4ff"/>
<rect x="418" y="590" width="18" height="18" fill="#00b9ff"/>
<rect x="436" y="590" width="55" height="18" fill="#00beff"/>
<rect x="491" y="590" width="18" height="18" fill="#00aaff"/>
<rect x="509" y="590" width="18" height="18" fill="#0064ff"/>
<rect x="527" y="590" width="73" height="18" fill="#005fff"/>
<rect x="600" y="590" width="18" height="18" fill="#0064ff"/>
<rect x="618" y="590" width="18" height="18" fill="#006eff"/>
<rect x="636" y="590" width="18" height="18" fill="#0078ff"/>
<rect x="654" y="590" width="19" height="18" fill="#0082ff"/>
<rect x="673" y="590" width="18" height="18" fill="#008cff"/>
<rect x="691" y="590" width="18" height="18" fill="#0096ff"/>
<rect x="709" y="590" width="18" height="18" fill="#009bff"/>
<rect x="727" y="590" width="55" height="18" fill="#00a0ff"/>
<rect x="782" y="590" width="18" height="18" fill="#00a5ff"/>
<rect x="18" y="608" width="55" height="19" fill="#00f98c"/>
<rect x="73" y="608" width="18" height="19" fill="#00f982"/>
<rect x="91" y="608" width="18" height="19" fill="#00f98c"/>
<rect x="109" y="608" width="18" height="19" fill="#00fa96"/>
<rect x="127" y="608" width="18" height="19" fill="#00fcbe"/>
<rect x="145" y="608" width="19" height="19" fill="#00fcc8"/>
<rect x="164" y="608" width="18" height="19" fill="#00fde1"/>
<rect x="182" y="608" width="18" height="19" fill="#00fef0"/>
<rect x="200" y="608" width="18" height="19" fill="#00f5ff"/>
<rect x="218" y="608" width="18" height="19" fill="#00ebff"/>
<rect x="236" y="608" width="18" height="19" fill="#00e1ff"/>
<rect x="254" y="608" width="19" height="19" fill="#00d7ff"/>
<rect x="273" y="608" width="18" height="19" fill="#00cdff"/>
<rect x="291" y="608" width="18" height="19" fill="#00c8ff"/>
<rect x="309" y="608" width="36" height="19" fill="#00d7ff"/>
<rect x="345" y="608" width="19" height="19" fill="#00c3ff"/>
<rect x="364" y="608" width="18" height="19" fill="#0096ff"/>
<rect x="382" y="608" width="18" height="19" fill="#0064ff"/>
<rect x="400" y="608" width="18" height="19" fill="#005aff"/>
<rect x="418" y="608" width="18" height="19" fill="#0064ff"/>
<rect x="436" y="608" width="18" height="19" fill="#006eff"/>
<rect x="454" y="608" width="19" height="19" fill="#0069ff"/>
<rect x="473" y="608" width="18" height="19" fill="#005aff"/>
<rect x="491" y="608" width="18" height="19" fill="#004bff"/>
<rect x="509" y="608" width="36" height="19" fill="#0041ff"/>
<rect x="545" y="608" width="19" height="19" fill="#0050ff"/>
<rect x="564" y="608" width="18" height="19" fill="#005aff"/>
<rect x="582" y="608" width="18" height="19" fill="#0064ff"/>
<rect x="600" y="608" width="18" height="19" fill="#0069ff"/>
<rect x="618" y="608" width="18" height="19" fill="#006eff"/>
<rect x="636" y="608" width="18" height="19" fill="#0073ff"/>
<rect x="654" y="608" width="19" height="19" fill="#007dff"/>
<rect x="673" y="608" width="18" height="19" fill="#0082ff"/>
<rect x="691" y="608" width="18" height="19" fill="#0087ff"/>
<rect x="709" y="608" width="18" height="19" fill="#008cff"/>
<rect x="727" y="608" width="18" height="19" fill="#0096ff"/>
<rect x="745" y="608" width="19" height="19" fill="#009bff"/>
<rect x="764" y="608" width="36" height="19" fill="#00a0ff"/>
<rect x="0" y="627" width="18" height="18" fill="#00f86e"/>
<rect x="18" y="627" width="18" height="18" fill="#00f75a"/>
<rect x="36" y="627" width="18" height="18" fill="#00f650"/>
<rect x="54" y="627" width="19" height="18" fill="#00f646"/>
<rect x="73" y="627" width="18" height="18" fill="#00f53c"/>
<rect x="91" y="627" width="18" height="18" fill="#00f532"/>
<rect x="109" y="627" width="18" height="18" fill="#00f646"/>
<rect x="127" y="627" width="18" height="18" fill="#00f98c"/>
<rect x="145" y="627" width="19" height="18" fill="#00fa96"/>
<rect x="164" y="627" width="18" height="18" fill="#00fcc8"/>
<rect x="182" y="627" width="18" height="18" fill="#00feeb"/>
<rect x="200" y="627" width="18" height="18" fill="#00f5ff"/>
<rect x="218" y="627" width="18" height="18" fill="#00d7ff"/>
<rect x="236" y="627" width="18" height="18" fill="#00c3ff"/>
<rect x="254" y="627" width="19" height="18" fill="#00b9ff"/>
<rect x="273" y="627" width="18" height="18" fill="#00afff"/>
<rect x="291" y="627" width="18" height="18" fill="#00a0ff"/>
<rect x="309" y="627" width="18" height="18" fill="#00a5ff"/>
<rect x="327" y="627" width="18" height="18" fill="#0096ff"/>
<rect x="345" y="627" width="19" height="18" fill="#0078ff"/>
<rect x="364" y="627" width="18" height="18" fill="#0050ff"/>
<rect x="382" y="627" width="18" height="18" fill="#0046ff"/>
<rect x="400" y="627" width="18" height="18" fill="#0032ff"/>
<rect x="418" y="627" width="18" height="18" fill="#003cff"/>
<rect x="436" y="627" width="55" height="18" fill="#0050ff"/>
<rect x="491" y="627" width="18" height="18" fill="#004bff"/>
<rect x="509" y="627" width="18" height="18" fill="#0046ff"/>
<rect x="527" y="627" width="18" height="18" fill="#004bff"/>
<rect x="545" y="627" width="19" height="18" fill="#0055ff"/>
<rect x="564" y="627" width="18" height="18" fill="#005cff"/>
<rect x="582" y="627" width="18" height="18" fill="#0064ff"/>
<rect x="600" y="627" width="18" height="18" fill="#0069ff"/>
<rect x="618" y="627" width="18" height="18" fill="#006eff"/>
<rect x="636" y="627" width="18" height="18" fill="#0073ff"/>
<rect x="654" y="627" width="55" height="18" fill="#007dff"/>
<rect x="709" y="627" width="18" height="18" fill="#0082ff"/>
<rect x="727" y="627" width="18" height="18" fill="#008cff"/>
<rect x="745" y="627" width="19" height="18" fill="#0096ff"/>
<rect x="764" y="627" width="18" height="18" fill="#009bff"/>
<rect x="782" y="627" width="18" height="18" fill="#00a0ff"/>
<rect x="0" y="645" width="18" height="18" fill="#00f764"/>
<rect x="18" y="645" width="18" height="18" fill="#00f650"/>
<rect x="36" y="645" width="18" height="18" fill="#00f646"/>
<rect x="54" y="645" width="19" height="18" fill="#00f532"/>
<rect x="73" y="645" width="54" height="18" fill="#00f428"/>
<rect x="127" y="645" width="18" height="18" fill="#00f650"/>
<rect x="145" y="645" width="19" height="18" fill="#00faa0"/>
<rect x="164" y="645" width="18" height="18" fill="#00fdd2"/>
<rect x="182" y="645" width="18" height="18" fill="#00fef0"/>
<rect x="200" y="645" width="18" height="18" fill="#00ebff"/>
<rect x="218" y="645" width="18" height="18" fill="#00d2ff"/>
<rect x="236" y="645" width="18" height="18" fill="#00beff"/>
<rect x="254" y="645" width="19" height="18" fill="#00aaff"/>
<rect x="273" y="645" width="18" height="18" fill="#00a0ff"/>
<rect x="291" y="645" width="18" height="18" fill="#008cff"/>
<rect x="309" y="645" width="18" height="18" fill="#0082ff"/>
<rect x="327" y="645" width="18" height="18" fill="#0078ff"/>
<rect x="345" y="645" width="19" height="18" fill="#0064ff"/>
<rect x="364" y="645" width="18" height="18" fill="#0046ff"/>
<rect x="382" y="645" width="18" height="18" fill="#0032ff"/>
<rect x="400" y="645" width="36" height="18" fill="#0028ff"/>
<rect x="436" y="645" width="18" height="18" fill="#0037ff"/>
<rect x="454" y="645" width="19" height="18" fill="#0041ff"/>
<rect x="473" y="645" width="18" height="18" fill="#0046ff"/>
<rect x="491" y="645" width="36" height="18" fill="#004bff"/>
<rect x="527" y="645" width="18" height="18" fill="#0050ff"/>
<rect x="545" y="645" width="19" height="18" fill="#0057ff"/>
<rect x="564" y="645" width="18" height="18" fill="#005cff"/>
<rect x="582" y="645" width="18" height="18" fill="#0064ff"/>
<rect x="600" y="645" width="18" height="18" fill="#0069ff"/>
<rect x="618" y="645" width="18" height="18" fill="#006eff"/>
<rect x="636" y="645" width="18" height="18" fill="#0073ff"/>
<rect x="654" y="645" width="73" height="18" fill="#0078ff"/>
<rect x="727" y="645" width="18" height="18" fill="#0082ff"/>
<rect x="745" y="645" width="19" height="18" fill="#008cff"/>
<rect x="764" y="645" width="18" height="18" fill="#0096ff"/>
<rect x="782" y="645" width="18" height="18" fill="#009bff"/>
<rect x="0" y="663" width="18" height="18" fill="#00f982"/>
<rect x="18" y="663" width="36" height="18" fill="#00f878"/>
<rect x="54" y="663" width="55" height="18" fill="#00f982"/>
<rect x="109" y="663" width="18" height="18" fill="#00fbaa"/>
<rect x="127" y="663" width="18" height="18" fill="#00fddc"/>
<rect x="145" y="663" width="19" height="18" fill="#00d7ff"/>
<rect x="164" y="663" width="18" height="18" fill="#00beff"/>
<rect x="182" y="663" width="18" height="18" fill="#00afff"/>
<rect x="200" y="663" width="18" height="18" fill="#00a5ff"/>
<rect x="218" y="663" width="18" height="18" fill="#00a0ff"/>
<rect x="236" y="663" width="18" height="18" fill="#0096ff"/>
<rect x="254" y="663" width="19" height="18" fill="#0087ff"/>
<rect x="273" y="663" width="18" height="18" fill="#0078ff"/>
<rect x="291" y="663" width="18" height="18" fill="#0064ff"/>
<rect x="309" y="663" width="18" height="18" fill="#0055ff"/>
<rect x="327" y="663" width="18" height="18" fill="#004bff"/>
<rect x="345" y="663" width="19" height="18" fill="#003cff"/>
<rect x="364" y="663" width="18" height="18" fill="#0032ff"/>
<rect x="382" y="663" width="18" height="18" fill="#0023ff"/>
<rect x="400" y="663" width="18" height="18" fill="#001eff"/>
<rect x="418" y="663" width="18" height="18" fill="#0014ff"/>
<rect x="436" y="663" width="18" height="18" fill="#0019ff"/>
<rect x="454" y="663" width="19" height="18" fill="#0023ff"/>
<rect x="473" y="663" width="18" height="18" fill="#002dff"/>
<rect x="491" y="663" width="18" height="18" fill="#0037ff"/>
<rect x="509" y="663" width="18" height="18" fill="#0046ff"/>
<rect x="527" y="663" width="18" height="18" fill="#0050ff"/>
<rect x="545" y="663" width="19" height="18" fill="#0057ff"/>
<rect x="564" y="663" width="18" height="18" fill="#005cff"/>
<rect x="582" y="663" width="18" height="18" fill="#0064ff"/>
<rect x="600" y="663" width="18" height="18" fill="#006eff"/>
<rect x="618" y="663" width="18" height="18" fill="#0073ff"/>
<rect x="636" y="663" width="18" height="18" fill="#0078ff"/>
<rect x="654" y="663" width="37" height="18" fill="#007dff"/>
<rect x="691" y="663" width="36" height="18" fill="#0078ff"/>
<rect x="727" y="663" width="18" height="18" fill="#0082ff"/>
<rect x="745" y="663" width="19" height="18" fill="#008cff"/>
<rect x="764" y="663" width="18" height="18" fill="#0096ff"/>
<rect x="782" y="663" width="18" height="18" fill="#009bff"/>
<rect x="0" y="681" width="36" height="18" fill="#00c8ff"/>
<rect x="36" y="681" width="18" height="18" fill="#00beff"/>
<rect x="54" y="681" width="19" height="18" fill="#00aaff"/>
<rect x="73" y="681" width="18" height="18" fill="#00a0ff"/>
<rect x="91" y="681" width="73" height="18" fill="#0096ff"/>
<rect x="164" y="681" width="18" height="18" fill="#00a5ff"/>
<rect x="182" y="681" width="18" height="18" fill="#00b4ff"/>
<rect x="200" y="681" width="18" height="18" fill="#00b9ff"/>
<rect x="218" y="681" width="18" height="18" fill="#00afff"/>
<rect x="236" y="681" width="18" height="18" fill="#00a5ff"/>
<rect x="254" y="681" width="19" height="18" fill="#009bff"/>
<rect x="273" y="681" width="18" height="18" fill="#0096ff"/>
<rect x="291" y="681" width="18" height="18" fill="#0087ff"/>
<rect x="309" y="681" width="18" height="18" fill="#007dff"/>
<rect x="327" y="681" width="18" height="18" fill="#0073ff"/>
<rect x="345" y="681" width="19" height="18" fill="#0064ff"/>
<rect x="364" y="681" width="36" height="18" fill="#0046ff"/>
<rect x="400" y="681" width="18" height="18" fill="#0032ff"/>
<rect x="418" y="681" width="36" height="18" fill="#001eff"/>
<rect x="454" y="681" width="37" height="18" fill="#0019ff"/>
<rect x="491" y="681" width="18" height="18" fill="#0023ff"/>
<rect x="509" y="681" width="18" height="18" fill="#003cff"/>
<rect x="527" y="681" width="18" height="18" fill="#004bff"/>
<rect x="545" y="681" width="19" height="18" fill="#0057ff"/>
<rect x="564" y="681" width="18" height="18" fill="#005cff"/>
<rect x="582" y="681" width="18" height="18" fill="#0064ff"/>
<rect x="600" y="681" width="18" height="18" fill="#0073ff"/>
<rect x="618" y="681" width="18" height="18" fill="#007dff"/>
<rect x="636" y="681" width="18" height="18" fill="#0082ff"/>
<rect x="654" y="681" width="19" height="18" fill="#008cff"/>
<rect x="673" y="681" width="18" height="18" fill="#0091ff"/>
<rect x="691" y="681" width="18" height="18" fill="#008cff"/>
<rect x="709" y="681" width="36" height="18" fill="#0087ff"/>
<rect x="745" y="681" width="19" height="18" fill="#008cff"/>
<rect x="764" y="681" width="18" height="18" fill="#0096ff"/>
<rect x="782" y="681" width="18" height="18" fill="#009bff"/>
<rect x="0" y="699" width="18" height="19" fill="#0032ff"/>
<rect x="18" y="699" width="36" height="19" fill="#0028ff"/>
<rect x="54" y="699" width="19" height="19" fill="#0032ff"/>
<rect x="73" y="699" width="36" height="19" fill="#003cff"/>
<rect x="109" y="699" width="18" height="19" fill="#0046ff"/>
<rect x="127" y="699" width="18" height="19" fill="#005aff"/>
<rect x="145" y="699" width="19" height="19" fill="#0082ff"/>
<rect x="164" y="699" width="18" height="19" fill="#00b4ff"/>
<rect x="182" y="699" width="18" height="19" fill="#00d2ff"/>
<rect x="200" y="699" width="18" height="19" fill="#00d7ff"/>
<rect x="218" y="699" width="18" height="19" fill="#00d2ff"/>
<rect x="236" y="699" width="18" height="19" fill="#00c8ff"/>
<rect x="254" y="699" width="19" height="19" fill="#00c3ff"/>
<rect x="273" y="699" width="18" height="19" fill="#00beff"/>
<rect x="291" y="699" width="18" height="19" fill="#00b9ff"/>
<rect x="309" y="699" width="18" height="19" fill="#00afff"/>
<rect x="327" y="699" width="18" height="19" fill="#00a5ff"/>
<rect x="345" y="699" width="19" height="19" fill="#0091ff"/>
<rect x="364" y="699" width="18" height="19" fill="#006eff"/>
<rect x="382" y="699" width="18" height="19" fill="#0064ff"/>
<rect x="400" y="699" width="18" height="19" fill="#0050ff"/>
<rect x="418" y="699" width="18" height="19" fill="#0037ff"/>
<rect x="436" y="699" width="18" height="19" fill="#0028ff"/>
<rect x="454" y="699" width="19" height="19" fill="#0019ff"/>
<rect x="473" y="699" width="18" height="19" fill="#0014ff"/>
<rect x="491" y="699" width="18" height="19" fill="#001eff"/>
<rect x="509" y="699" width="18" height="19" fill="#0037ff"/>
<rect x="527" y="699" width="18" height="19" fill="#004bff"/>
<rect x="545" y="699" width="19" height="19" fill="#0055ff"/>
<rect x="564" y="699" width="18" height="19" fill="#005aff"/>
<rect x="582" y="699" width="18" height="19" fill="#0064ff"/>
<rect x="600" y="699" width="18" height="19" fill="#0073ff"/>
<rect x="618" y="699" width="18" height="19" fill="#0082ff"/>
<rect x="636" y="699" width="18" height="19" fill="#008cff"/>
<rect x="654" y="699" width="19" height="19" fill="#009bff"/>
<rect x="673" y="699" width="18" height="19" fill="#00a0ff"/>
<rect x="691" y="699" width="18" height="19" fill="#009bff"/>
<rect x="709" y="699" width="18" height="19" fill="#0096ff"/>
<rect x="727" y="699" width="37" height="19" fill="#0091ff"/>
<rect x="764" y="699" width="18" height="19" fill="#0096ff"/>
<rect x="782" y="699" width="18" height="19" fill="#009bff"/>
<rect x="0" y="718" width="18" height="18" fill="#0014ff"/>
<rect x="18" y="718" width="18" height="18" fill="#000fff"/>
<rect x="36" y="718" width="18" height="18" fill="#0014ff"/>
<rect x="54" y="718" width="19" height="18" fill="#0019ff"/>
<rect x="73" y="718" width="18" height="18" fill="#001eff"/>
<rect x="91" y="718" width="54" height="18" fill="#0014ff"/>
<rect x="145" y="718" width="19" height="18" fill="#001eff"/>
<rect x="164" y="718" width="18" height="18" fill="#003cff"/>
<rect x="182" y="718" width="18" height="18" fill="#0078ff"/>
<rect x="200" y="718" width="18" height="18" fill="#00b4ff"/>
<rect x="218" y="718" width="18" height="18" fill="#00d7ff"/>
<rect x="236" y="718" width="18" height="18" fill="#00ebff"/>
<rect x="254" y="718" width="19" height="18" fill="#00e6ff"/>
<rect x="273" y="718" width="18" height="18" fill="#00e1ff"/>
<rect x="291" y="718" width="18" height="18" fill="#00d7ff"/>
<rect x="309" y="718" width="18" height="18" fill="#00cdff"/>
<rect x="327" y="718" width="18" height="18" fill="#00c3ff"/>
<rect x="345" y="718" width="19" height="18" fill="#00b4ff"/>
<rect x="364" y="718" width="18" height="18" fill="#0096ff"/>
<rect x="382" y="718" width="18" height="18" fill="#0082ff"/>
<rect x="400" y="718" width="18" height="18" fill="#0073ff"/>
<rect x="418" y="718" width="18" height="18" fill="#005aff"/>
<rect x="436" y="718" width="18" height="18" fill="#0046ff"/>
<rect x="454" y="718" width="19" height="18" fill="#0032ff"/>
<rect x="473" y="718" width="36" height="18" fill="#0023ff"/>
<rect x="509" y="718" width="18" height="18" fill="#0032ff"/>
<rect x="527" y="718" width="18" height="18" fill="#0041ff"/>
<rect x="545" y="718" width="19" height="18" fill="#0050ff"/>
<rect x="564" y="718" width="18" height="18" fill="#0055ff"/>
<rect x="582" y="718" width="18" height="18" fill="#005fff"/>
<rect x="600" y="718" width="18" height="18" fill="#0069ff"/>
<rect x="618" y="718" width="18" height="18" fill="#0078ff"/>
<rect x="636" y="718" width="18" height="18" fill="#008cff"/>
<rect x="654" y="718" width="19" height="18" fill="#00a0ff"/>
<rect x="673" y="718" width="36" height="18" fill="#00a5ff"/>
<rect x="709" y="718" width="18" height="18" fill="#00a0ff"/>
<rect x="727" y="718" width="55" height="18" fill="#0096ff"/>
<rect x="782" y="718" width="18" height="18" fill="#009bff"/>
<rect x="0" y="736" width="18" height="18" fill="#0028ff"/>
<rect x="18" y="736" width="18" height="18" fill="#003cff"/>
<rect x="36" y="736" width="18" height="18" fill="#0046ff"/>
<rect x="54" y="736" width="37" height="18" fill="#0050ff"/>
<rect x="91" y="736" width="18" height="18" fill="#0046ff"/>
<rect x="109" y="736" width="18" height="18" fill="#003cff"/>
<rect x="127" y="736" width="18" height="18" fill="#0032ff"/>
<rect x="145" y="736" width="19" height="18" fill="#001eff"/>
<rect x="164" y="736" width="36" height="18" fill="#0019ff"/>
<rect x="200" y="736" width="18" height="18" fill="#0028ff"/>
<rect x="218" y="736" width="18" height="18" fill="#005aff"/>
<rect x="236" y="736" width="18" height="18" fill="#0082ff"/>
<rect x="254" y="736" width="19" height="18" fill="#00afff"/>
<rect x="273" y="736" width="18" height="18" fill="#00c8ff"/>
<rect x="291" y="736" width="18" height="18" fill="#00d2ff"/>
<rect x="309" y="736" width="36" height="18" fill="#00d7ff"/>
<rect x="345" y="736" width="19" height="18" fill="#00cdff"/>
<rect x="364" y="736" width="18" height="18" fill="#00beff"/>
<rect x="382" y="736" width="18" height="18" fill="#00aaff"/>
<rect x="400" y="736" width="18" height="18" fill="#00a0ff"/>
<rect x="418" y="736" width="18" height="18" fill="#008cff"/>
<rect x="436" y="736" width="18" height="18" fill="#0078ff"/>
<rect x="454" y="736" width="19" height="18" fill="#0064ff"/>
<rect x="473" y="736" width="18" height="18" fill="#0050ff"/>
<rect x="491" y="736" width="18" height="18" fill="#003cff"/>
<rect x="509" y="736" width="18" height="18" fill="#0028ff"/>
<rect x="527" y="736" width="18" height="18" fill="#0019ff"/>
<rect x="545" y="736" width="19" height="18" fill="#001eff"/>
<rect x="564" y="736" width="18" height="18" fill="#0028ff"/>
<rect x="582" y="736" width="18" height="18" fill="#003cff"/>
<rect x="600" y="736" width="18" height="18" fill="#0046ff"/>
<rect x="618" y="736" width="18" height="18" fill="#0050ff"/>
<rect x="636" y="736" width="18" height="18" fill="#005fff"/>
<rect x="654" y="736" width="19" height="18" fill="#0073ff"/>
<rect x="673" y="736" width="18" height="18" fill="#0087ff"/>
<rect x="691" y="736" width="18" height="18" fill="#0091ff"/>
<rect x="709" y="736" width="18" height="18" fill="#009bff"/>
<rect x="727" y="736" width="18" height="18" fill="#00a0ff"/>
<rect x="745" y="736" width="19" height="18" fill="#00a5ff"/>
<rect x="764" y="736" width="36" height="18" fill="#00aaff"/>
<rect x="0" y="754" width="18" height="18" fill="#0046ff"/>
<rect x="18" y="754" width="18" height="18" fill="#0064ff"/>
<rect x="36" y="754" width="18" height="18" fill="#0078ff"/>
<rect x="54" y="754" width="55" height="18" fill="#0082ff"/>
<rect x="109" y="754" width="18" height="18" fill="#0078ff"/>
<rect x="127" y="754" width="18" height="18" fill="#006eff"/>
<rect x="145" y="754" width="19" height="18" fill="#0064ff"/>
<rect x="164" y="754" width="18" height="18" fill="#005aff"/>
<rect x="182" y="754" width="18" height="18" fill="#0050ff"/>
<rect x="200" y="754" width="18" height="18" fill="#003cff"/>
<rect x="218" y="754" width="18" height="18" fill="#0032ff"/>
<rect x="236" y="754" width="18" height="18" fill="#0028ff"/>
<rect x="254" y="754" width="19" height="18" fill="#0037ff"/>
<rect x="273" y="754" width="18" height="18" fill="#0050ff"/>
<rect x="291" y="754" width="18" height="18" fill="#006eff"/>
<rect x="309" y="754" width="18" height="18" fill="#008cff"/>
<rect x="327" y="754" width="18" height="18" fill="#009bff"/>
<rect x="345" y="754" width="37" height="18" fill="#00a5ff"/>
<rect x="382" y="754" width="36" height="18" fill="#00a0ff"/>
<rect x="418" y="754" width="18" height="18" fill="#0096ff"/>
<rect x="436" y="754" width="18" height="18" fill="#008cff"/>
<rect x="454" y="754" width="19" height="18" fill="#0082ff"/>
<rect x="473" y="754" width="18" height="18" fill="#006eff"/>
<rect x="491" y="754" width="18" height="18" fill="#005aff"/>
<rect x="509" y="754" width="18" height="18" fill="#0046ff"/>
<rect x="527" y="754" width="18" height="18" fill="#003cff"/>
<rect x="545" y="754" width="37" height="18" fill="#0037ff"/>
<rect x="582" y="754" width="18" height="18" fill="#003cff"/>
<rect x="600" y="754" width="18" height="18" fill="#0037ff"/>
<rect x="618" y="754" width="18" height="18" fill="#003cff"/>
<rect x="636" y="754" width="18" height="18" fill="#0046ff"/>
<rect x="654" y="754" width="19" height="18" fill="#005aff"/>
<rect x="673" y="754" width="18" height="18" fill="#0064ff"/>
<rect x="691" y="754" width="18" height="18" fill="#006eff"/>
<rect x="709" y="754" width="18" height="18" fill="#0078ff"/>
<rect x="727" y="754" width="18" height="18" fill="#0096ff"/>
<rect x="745" y="754" width="19" height="18" fill="#00aaff"/>
<rect x="764" y="754" width="18" height="18" fill="#00b4ff"/>
<rect x="782" y="754" width="18" height="18" fill="#00b9ff"/>
</g>
<clipPath id="pc"><rect x="0" y="27" width="800" height="746"/></clipPath>
<path clip-path="url(#pc)" d="M717.3 37.0 L710.9 53.8 M710.2 45.7 L710.9 53.8 L716.8 48.3 M771.8 37.0 L766.5 47.1 M766.6 42.0 L766.5 47.1 L770.6 44.1 M790.0 37.0 L784.4 52.4 M783.6 45.1 L784.4 52.4 L789.7 47.3 M699.1 55.2 L700.0 58.1 M698.6 56.6 L700.0 58.1 L700.3 56.1 M717.3 55.2 L716.8 64.3 M715.2 60.5 L716.8 64.3 L718.8 60.7 M753.7 55.2 L751.6 69.6 M749.6 63.3 L751.6 69.6 L755.3 64.1 M771.8 55.2 L771.8 69.7 M769.0 63.8 L771.8 69.7 L774.7 63.8 M790.0 55.2 L790.8 69.7 M787.6 64.0 L790.8 69.7 L793.3 63.7 M680.9 73.3 L687.8 73.9 M684.9 75.1 L687.8 73.9 L685.1 72.3 M699.1 73.3 L705.9 74.5 M702.9 75.4 L705.9 74.5 L703.4 72.7 M717.3 73.3 L723.9 75.1 M720.9 75.7 L723.9 75.1 L721.6 73.1 M735.5 73.3 L740.6 76.7 M737.8 76.4 L740.6 76.7 L739.2 74.3 M753.7 73.3 L753.0 86.3 M750.7 80.9 L753.0 86.3 L755.8 81.2 M771.8 73.3 L771.8 87.9 M769.0 82.0 L771.8 87.9 L774.7 82.0 M790.0 73.3 L791.3 87.8 M787.9 82.2 L791.3 87.8 L793.6 81.7 M662.7 91.5 L666.3 94.5 M664.3 94.0 L666.3 94.5 L665.4 92.6 M680.9 91.5 L686.7 93.6 M683.9 93.9 L686.7 93.6 L684.8 91.6 M699.1 91.5 L705.7 93.4 M702.7 93.9 L705.7 93.4 L703.4 91.3 M717.3 91.5 L724.0 93.0 M721.0 93.7 L724.0 93.0 L721.6 91.1 M735.5 91.5 L741.8 94.3 M738.7 94.4 L741.8 94.3 L739.8 91.9 M753.7 91.5 L758.3 98.6 M755.0 96.6 L758.3 98.6 L757.8 94.8 M771.8 91.5 L773.8 102.8 M770.8 98.6 L773.8 102.8 L775.3 97.8 M790.0 91.5 L792.9 104.2 M789.3 99.6 L792.9 104.2 L794.3 98.5 M680.9 109.7 L686.9 115.6 M683.3 114.4 L686.9 115.6 L685.6 112.1 M699.1 109.7 L705.8 114.8 M702.1 114.1 L705.8 114.8 L704.1 111.4 M717.3 109.7 L723.9 113.5 M720.5 113.3 L723.9 113.5 L722.0 110.7 M735.5 109.7 L742.7 112.3 M739.2 112.7 L742.7 112.3 L740.3 109.8 M753.7 109.7 L761.0 115.2 M757.0 114.4 L761.0 115.2 L759.1 111.5 M771.8 109.7 L778.8 117.8 M774.4 115.9 L778.8 117.8 L777.6 113.2 M790.0 109.7 L794.0 120.5 M790.3 116.9 L794.0 120.5 L794.5 115.3 M662.7 127.9 L670.1 137.6 M665.2 135.1 L670.1 137.6 L669.1 132.2 M680.9 127.9 L686.7 137.8 M682.4 134.9 L686.7 137.8 L686.3 132.6 M699.1 127.9 L705.1 135.8 M701.1 133.8 L705.1 135.8 L704.2 131.4 M717.3 127.9 L723.6 132.3 M720.2 131.7 L723.6 132.3 L721.9 129.2 M735.5 127.9 L741.1 131.8 M738.1 131.3 L741.1 131.8 L739.6 129.1 M753.7 127.9 L759.6 134.9 M755.8 133.2 L759.6 134.9 L758.6 130.9 M771.8 127.9 L778.0 136.6 M773.8 134.3 L778.0 136.6 L777.2 131.9 M790.0 127.9 L796.1 137.6 M791.7 134.9 L796.1 137.6 L795.6 132.5 M644.6 146.0 L651.1 156.4 M646.4 153.5 L651.1 156.4 L650.5 150.9 M662.7 146.0 L670.7 156.3 M665.5 153.7 L670.7 156.3 L669.5 150.6 M680.9 146.0 L687.8 156.2 M683.0 153.4 L687.8 156.2 L687.0 150.7 M699.1 146.0 L705.5 155.5 M701.1 153.0 L705.5 155.5 L704.8 150.4 M717.3 146.0 L723.2 153.1 M719.4 151.4 L723.2 153.1 L722.2 149.1 M735.5 146.0 L740.3 150.9 M737.4 149.9 L740.3 150.9 L739.3 148.0 M753.7 146.0 L759.6 153.1 M755.8 151.4 L759.6 153.1 L758.6 149.1 M771.8 146.0 L778.0 154.8 M773.8 152.5 L778.0 154.8 L777.2 150.0 M790.0 146.0 L795.8 156.0 M791.5 153.1 L795.8 156.0 L795.4 150.8 M644.6 164.2 L651.5 175.2 M646.5 172.1 L651.5 175.2 L650.9 169.4 M662.7 164.2 L670.6 175.5 M665.2 172.5 L670.6 175.5 L669.7 169.4 M680.9 164.2 L687.8 175.2 M682.9 172.1 L687.8 175.2 L687.2 169.4 M699.1 164.2 L705.6 174.6 M700.9 171.7 L705.6 174.6 L705.0 169.1 M717.3 164.2 L723.4 173.0 M719.2 170.6 L723.4 173.0 L722.7 168.2 M735.5 164.2 L741.4 171.2 M737.6 169.6 L741.4 171.2 L740.4 167.2 M753.7 164.2 L759.4 172.4 M755.4 170.2 L759.4 172.4 L758.7 167.9 M771.8 164.2 L777.2 173.5 M773.2 170.8 L777.2 173.5 L776.9 168.7 M790.0 164.2 L794.0 175.0 M790.2 171.4 L794.0 175.0 L794.5 169.9 M626.4 182.4 L638.9 191.2 M632.1 190.1 L638.9 191.2 L635.6 185.1 M644.6 182.4 L656.4 189.5 M650.2 189.0 L656.4 189.5 L653.0 184.3 M662.7 182.4 L671.2 193.2 M665.7 190.5 L671.2 193.2 L669.9 187.2 M680.9 182.4 L687.2 194.6 M682.2 190.9 L687.2 194.6 L687.1 188.5 M699.1 182.4 L705.8 193.5 M700.9 190.3 L705.8 193.5 L705.3 187.7 M717.3 182.4 L723.0 193.6 M718.5 190.2 L723.0 193.6 L722.9 188.0 M735.5 182.4 L740.2 192.9 M736.2 189.5 L740.2 192.9 L740.3 187.7 M753.7 182.4 L758.3 191.6 M754.6 188.8 L758.3 191.6 L758.3 186.9 M771.8 182.4 L775.5 192.9 M771.9 189.3 L775.5 192.9 L776.1 187.9 M790.0 182.4 L794.0 194.0 M790.1 190.1 L794.0 194.0 L794.7 188.5 M608.2 200.6 L619.9 207.9 M613.7 207.2 L619.9 207.9 L616.6 202.6 M626.4 200.6 L640.0 207.5 M633.1 207.4 L640.0 207.5 L635.9 202.0 M644.6 200.6 L657.7 209.8 M650.6 208.6 L657.7 209.8 L654.2 203.4 M662.7 200.6 L671.7 212.0 M665.8 209.1 L671.7 212.0 L670.3 205.6 M680.9 200.6 L687.5 213.5 M682.3 209.6 L687.5 213.5 L687.4 207.0 M699.1 200.6 L705.4 212.8 M700.4 209.1 L705.4 212.8 L705.3 206.6 M717.3 200.6 L721.9 213.1 M717.5 209.0 L721.9 213.1 L722.5 207.1 M735.5 200.6 L740.2 212.3 M736.0 208.5 L740.2 212.3 L740.6 206.6 M753.7 200.6 L758.5 211.4 M754.4 208.0 L758.5 211.4 L758.7 206.1 M771.8 200.6 L775.3 211.9 M771.7 208.0 L775.3 211.9 L776.1 206.6 M790.0 200.6 L792.7 212.9 M789.2 208.4 L792.7 212.9 L794.0 207.4 M590.0 218.7 L601.3 224.4 M595.6 224.3 L601.3 224.4 L597.9 219.9 M608.2 218.7 L621.1 224.5 M614.8 224.7 L621.1 224.5 L617.0 219.6 M626.4 218.7 L640.6 224.5 M633.7 225.0 L640.6 224.5 L636.0 219.4 M644.6 218.7 L658.3 226.4 M651.2 226.0 L658.3 226.4 L654.2 220.6 M662.7 218.7 L671.8 229.1 M666.1 226.7 L671.8 229.1 L670.2 223.1 M680.9 218.7 L687.6 231.2 M682.4 227.5 L687.6 231.2 L687.4 224.9 M699.1 218.7 L705.1 231.6 M700.1 227.6 L705.1 231.6 L705.2 225.2 M717.3 218.7 L722.5 231.5 M717.8 227.4 L722.5 231.5 L722.9 225.3 M735.5 218.7 L740.5 231.1 M736.0 227.1 L740.5 231.1 L740.9 225.1 M753.7 218.7 L758.5 230.8 M754.2 226.9 L758.5 230.8 L758.9 225.0 M771.8 218.7 L775.7 230.7 M771.8 226.7 L775.7 230.7 L776.5 225.1 M790.0 218.7 L793.4 231.3 M789.5 226.9 L793.4 231.3 L794.5 225.6 M571.8 236.9 L580.4 241.9 M576.0 241.6 L580.4 241.9 L577.9 238.2 M590.0 236.9 L601.8 242.4 M596.0 242.5 L601.8 242.4 L598.1 237.9 M608.2 236.9 L621.5 241.8 M615.2 242.4 L621.5 241.8 L617.1 237.2 M626.4 236.9 L640.2 242.5 M633.5 243.0 L640.2 242.5 L635.7 237.5 M644.6 236.9 L657.6 244.1 M650.9 243.8 L657.6 244.1 L653.8 238.6 M662.7 236.9 L673.7 243.2 M668.0 242.8 L673.7 243.2 L670.5 238.5 M680.9 236.9 L689.5 247.2 M684.0 244.7 L689.5 247.2 L688.1 241.3 M699.1 236.9 L705.4 249.2 M700.4 245.5 L705.4 249.2 L705.3 243.0 M717.3 236.9 L723.1 249.8 M718.2 245.7 L723.1 249.8 L723.3 243.5 M735.5 236.9 L741.2 249.8 M736.3 245.7 L741.2 249.8 L741.5 243.5 M753.7 236.9 L759.3 249.5 M754.5 245.5 L759.3 249.5 L759.5 243.3 M771.8 236.9 L777.3 249.1 M772.7 245.3 L777.3 249.1 L777.5 243.1 M790.0 236.9 L794.4 249.6 M790.1 245.3 L794.4 249.6 L795.1 243.6 M553.7 255.1 L561.2 260.4 M557.1 259.7 L561.2 260.4 L559.2 256.7 M571.8 255.1 L582.4 261.2 M576.9 260.8 L582.4 261.2 L579.4 256.6 M590.0 255.1 L603.2 261.2 M596.6 261.3 L603.2 261.2 L599.1 256.2 M608.2 255.1 L621.7 260.5 M615.2 261.0 L621.7 260.5 L617.3 255.7 M626.4 255.1 L639.1 260.2 M633.0 260.7 L639.1 260.2 L635.0 255.6 M644.6 255.1 L656.1 261.0 M650.3 260.9 L656.1 261.0 L652.6 256.3 M662.7 255.1 L671.0 262.0 M666.3 260.8 L671.0 262.0 L669.0 257.6 M680.9 255.1 L687.6 264.9 M682.9 262.2 L687.6 264.9 L686.8 259.6 M699.1 255.1 L704.1 267.5 M699.7 263.5 L704.1 267.5 L704.6 261.5 M717.3 255.1 L724.0 268.4 M718.7 264.3 L724.0 268.4 L723.9 261.7 M735.5 255.1 L742.4 268.7 M736.9 264.6 L742.4 268.7 L742.3 261.8 M753.7 255.1 L759.4 269.3 M754.3 264.7 L759.4 269.3 L759.9 262.4 M771.8 255.1 L778.6 268.4 M773.2 264.3 L778.6 268.4 L778.5 261.7 M790.0 255.1 L795.5 268.6 M790.6 264.2 L795.5 268.6 L795.9 262.0 M208.2 273.3 L206.6 284.6 M205.0 279.7 L206.6 284.6 L209.5 280.3 M553.7 273.3 L561.9 280.1 M557.2 279.0 L561.9 280.1 L559.9 275.7 M571.8 273.3 L583.8 280.2 M577.6 279.7 L583.8 280.2 L580.3 275.0 M590.0 273.3 L604.9 280.2 M597.5 280.3 L604.9 280.2 L600.3 274.5 M608.2 273.3 L623.1 279.3 M615.9 279.8 L623.1 279.3 L618.3 273.9 M626.4 273.3 L640.2 278.8 M633.5 279.3 L640.2 278.8 L635.7 273.9 M644.6 273.3 L655.7 279.2 M650.0 279.0 L655.7 279.2 L652.4 274.6 M662.7 273.3 L669.3 279.1 M665.5 278.1 L669.3 279.1 L667.8 275.5 M680.9 273.3 L685.6 282.0 M682.0 279.4 L685.6 282.0 L685.4 277.6 M699.1 273.3 L703.6 285.5 M699.4 281.4 L703.6 285.5 L704.2 279.7 M717.3 273.3 L723.0 287.4 M717.9 282.8 L723.0 287.4 L723.5 280.6 M735.5 273.3 L741.5 288.2 M736.1 283.3 L741.5 288.2 L742.0 280.9 M753.7 273.3 L759.2 288.4 M754.0 283.3 L759.2 288.4 L759.9 281.2 M771.8 273.3 L777.9 288.2 M772.5 283.3 L777.9 288.2 L778.4 280.9 M790.0 273.3 L795.3 287.6 M790.3 282.9 L795.3 287.6 L796.0 280.8 M208.2 291.4 L209.3 299.0 M207.3 296.2 L209.3 299.0 L210.3 295.7 M226.4 291.4 L227.8 299.7 M225.6 296.7 L227.8 299.7 L228.9 296.1 M244.6 291.4 L247.0 301.1 M244.1 297.7 L247.0 301.1 L247.9 296.7 M262.7 291.4 L266.3 300.7 M263.0 297.7 L266.3 300.7 L266.7 296.3 M280.9 291.4 L285.4 300.3 M281.9 297.6 L285.4 300.3 L285.4 295.8 M535.5 291.4 L541.9 299.1 M537.8 297.2 L541.9 299.1 L540.8 294.7 M553.7 291.4 L563.0 299.9 M557.6 298.3 L563.0 299.9 L560.9 294.6 M571.8 291.4 L585.1 299.1 M578.2 298.6 L585.1 299.1 L581.2 293.4 M590.0 291.4 L606.3 298.0 M598.4 298.6 L606.3 298.0 L601.0 292.1 M608.2 291.4 L624.6 297.7 M616.7 298.4 L624.6 297.7 L619.2 292.0 M626.4 291.4 L641.3 297.5 M634.1 298.0 L641.3 297.5 L636.4 292.1 M644.6 291.4 L654.6 297.0 M649.4 296.7 L654.6 297.0 L651.6 292.8 M662.7 291.4 L667.7 296.2 M664.8 295.3 L667.7 296.2 L666.6 293.3 M680.9 291.4 L684.4 299.9 M681.3 297.2 L684.4 299.9 L684.7 295.8 M699.1 291.4 L702.9 303.9 M698.9 299.6 L702.9 303.9 L703.8 298.1 M717.3 291.4 L721.8 306.1 M717.1 301.0 L721.8 306.1 L722.8 299.3 M735.5 291.4 L739.7 307.3 M734.9 301.7 L739.7 307.3 L741.1 300.1 M753.7 291.4 L758.6 307.5 M753.4 302.0 L758.6 307.5 L759.8 300.1 M771.8 291.4 L777.5 306.9 M772.1 301.8 L777.5 306.9 L778.2 299.5 M790.0 291.4 L794.8 307.2 M789.8 301.8 L794.8 307.2 L796.0 299.9 M226.4 309.6 L229.0 313.4 M227.2 312.4 L229.0 313.4 L228.7 311.3 M244.6 309.6 L249.4 314.5 M246.5 313.5 L249.4 314.5 L248.4 311.6 M262.7 309.6 L268.7 315.6 M265.1 314.3 L268.7 315.6 L267.5 312.0 M280.9 309.6 L288.0 316.6 M283.7 315.2 L288.0 316.6 L286.5 312.4 M299.1 309.6 L306.7 317.2 M302.1 315.6 L306.7 317.2 L305.1 312.6 M317.3 309.6 L321.8 318.5 M318.2 315.8 L321.8 318.5 L321.7 314.0 M499.1 309.6 L505.6 320.9 M500.8 317.6 L505.6 320.9 L505.2 315.0 M517.3 309.6 L524.6 321.3 M519.3 318.0 L524.6 321.3 L523.9 315.1 M535.5 309.6 L543.8 319.6 M538.5 317.2 L543.8 319.6 L542.4 313.9 M553.7 309.6 L564.2 318.5 M558.2 317.0 L564.2 318.5 L561.7 312.8 M571.8 309.6 L585.3 316.8 M578.5 316.6 L585.3 316.8 L581.3 311.2 M590.0 309.6 L605.5 315.2 M598.1 316.0 L605.5 315.2 L600.3 309.9 M608.2 309.6 L625.1 315.8 M617.0 316.6 L625.1 315.8 L619.5 309.9 M626.4 309.6 L640.6 315.3 M633.7 315.8 L640.6 315.3 L636.0 310.2 M644.6 309.6 L653.8 315.0 M649.0 314.6 L653.8 315.0 L651.1 311.0 M662.7 309.6 L667.1 313.9 M664.5 313.0 L667.1 313.9 L666.2 311.3 M680.9 309.6 L683.8 318.3 M680.9 315.4 L683.8 318.3 L684.3 314.2 M699.1 309.6 L702.5 322.2 M698.6 317.8 L702.5 322.2 L703.6 316.4 M717.3 309.6 L721.0 325.6 M716.3 319.9 L721.0 325.6 L722.7 318.4 M735.5 309.6 L738.6 327.3 M733.8 320.8 L738.6 327.3 L740.8 319.5 M753.7 309.6 L757.8 326.3 M752.8 320.4 L757.8 326.3 L759.4 318.7 M771.8 309.6 L776.6 325.3 M771.6 319.9 L776.6 325.3 L777.8 318.0 M790.0 309.6 L794.0 325.6 M789.2 319.9 L794.0 325.6 L795.5 318.3 M262.7 327.8 L270.7 330.4 M267.0 330.9 L270.7 330.4 L268.0 327.8 M280.9 327.8 L289.8 332.3 M285.3 332.2 L289.8 332.3 L287.1 328.7 M299.1 327.8 L309.0 335.0 M303.6 334.0 L309.0 335.0 L306.4 330.1 M317.3 327.8 L327.2 336.2 M321.6 334.7 L327.2 336.2 L324.9 330.8 M335.5 327.8 L345.2 337.5 M339.4 335.5 L345.2 337.5 L343.2 331.7 M353.7 327.8 L364.8 337.1 M358.4 335.5 L364.8 337.1 L362.1 331.2 M371.8 327.8 L383.6 337.6 M376.9 336.0 L383.6 337.6 L380.8 331.3 M390.0 327.8 L401.9 339.7 M394.8 337.2 L401.9 339.7 L399.5 332.5 M408.2 327.8 L418.2 343.2 M411.1 338.9 L418.2 343.2 L417.2 335.0 M426.4 327.8 L437.0 340.9 M430.1 337.7 L437.0 340.9 L435.3 333.5 M444.6 327.8 L452.4 335.6 M447.7 334.0 L452.4 335.6 L450.8 330.9 M462.7 327.8 L471.5 335.2 M466.5 333.9 L471.5 335.2 L469.4 330.5 M480.9 327.8 L489.2 337.3 M484.0 335.1 L489.2 337.3 L487.7 331.8 M499.1 327.8 L508.4 338.5 M502.5 336.0 L508.4 338.5 L506.7 332.3 M517.3 327.8 L526.9 339.2 M520.7 336.5 L526.9 339.2 L525.3 332.7 M535.5 327.8 L545.7 338.1 M539.6 335.9 L545.7 338.1 L543.6 331.9 M553.7 327.8 L565.6 335.3 M559.3 334.6 L565.6 335.3 L562.3 329.9 M571.8 327.8 L585.7 333.4 M579.0 333.9 L585.7 333.4 L581.2 328.4 M590.0 327.8 L604.7 332.0 M597.9 333.2 L604.7 332.0 L599.6 327.4 M608.2 327.8 L623.3 330.5 M616.6 332.4 L623.3 330.5 L617.7 326.4 M626.4 327.8 L639.1 330.3 M633.5 331.8 L639.1 330.3 L634.5 326.8 M644.6 327.8 L652.7 332.0 M648.6 331.9 L652.7 332.0 L650.3 328.7 M662.7 327.8 L665.7 332.2 M663.7 331.0 L665.7 332.2 L665.4 329.8 M680.9 327.8 L682.1 336.1 M680.0 333.0 L682.1 336.1 L683.3 332.5 M699.1 327.8 L701.4 339.8 M698.1 335.4 L701.4 339.8 L702.9 334.5 M717.3 327.8 L719.7 342.9 M715.7 337.3 L719.7 342.9 L721.7 336.3 M735.5 327.8 L738.2 345.2 M733.7 338.7 L738.2 345.2 L740.5 337.6 M753.7 327.8 L756.5 345.9 M751.8 339.2 L756.5 345.9 L758.9 338.0 M771.8 327.8 L774.3 345.6 M769.8 338.9 L774.3 345.6 L776.8 337.9 M790.0 327.8 L792.8 345.2 M788.2 338.7 L792.8 345.2 L795.1 337.6 M299.1 346.0 L308.5 352.5 M303.4 351.7 L308.5 352.5 L306.0 348.0 M317.3 346.0 L328.3 352.9 M322.5 352.2 L328.3 352.9 L325.2 347.9 M335.5 346.0 L347.7 355.2 M340.9 353.9 L347.7 355.2 L344.6 349.0 M353.7 346.0 L367.1 355.4 M359.8 354.2 L367.1 355.4 L363.5 348.9 M371.8 346.0 L385.2 356.8 M377.7 355.0 L385.2 356.8 L381.9 349.8 M390.0 346.0 L403.0 358.9 M395.2 356.3 L403.0 358.9 L400.3 351.1 M408.2 346.0 L417.5 363.3 M410.3 358.1 L417.5 363.3 L417.2 354.5 M426.4 346.0 L436.4 360.9 M429.4 356.8 L436.4 360.9 L435.3 352.9 M444.6 346.0 L453.3 357.6 M447.5 354.6 L453.3 357.6 L452.1 351.1 M462.7 346.0 L470.0 356.7 M465.0 353.8 L470.0 356.7 L469.2 350.9 M480.9 346.0 L488.6 357.4 M483.3 354.3 L488.6 357.4 L487.8 351.2 M499.1 346.0 L507.5 357.9 M501.7 354.7 L507.5 357.9 L506.4 351.4 M517.3 346.0 L526.2 357.4 M520.4 354.5 L526.2 357.4 L524.9 351.0 M535.5 346.0 L544.0 356.8 M538.4 354.1 L544.0 356.8 L542.7 350.7 M553.7 346.0 L563.5 354.5 M557.8 353.0 L563.5 354.5 L561.2 349.1 M571.8 346.0 L583.8 352.0 M577.7 351.9 L583.8 352.0 L580.1 347.2 M590.0 346.0 L602.7 351.3 M596.5 351.7 L602.7 351.3 L598.6 346.7 M608.2 346.0 L620.8 349.3 M615.0 350.4 L620.8 349.3 L616.3 345.5 M626.4 346.0 L637.4 349.3 M632.3 350.1 L637.4 349.3 L633.6 345.8 M644.6 346.0 L651.1 349.9 M647.7 349.6 L651.1 349.9 L649.2 347.0 M662.7 346.0 L664.7 348.8 M663.0 347.8 L664.7 348.8 L664.4 346.8 M680.9 346.0 L681.9 352.0 M680.3 349.8 L681.9 352.0 L682.7 349.4 M699.1 346.0 L700.3 355.8 M697.9 352.1 L700.3 355.8 L701.8 351.6 M717.3 346.0 L718.5 359.3 M715.4 354.1 L718.5 359.3 L720.6 353.7 M735.5 346.0 L736.6 362.4 M732.9 356.0 L736.6 362.4 L739.4 355.5 M753.7 346.0 L756.2 364.1 M751.6 357.3 L756.2 364.1 L758.8 356.3 M771.8 346.0 L774.4 364.5 M769.7 357.5 L774.4 364.5 L777.0 356.5 M790.0 346.0 L791.3 364.7 M787.1 357.4 L791.3 364.7 L794.5 356.8 M299.1 364.1 L306.1 368.8 M302.3 368.3 L306.1 368.8 L304.2 365.6 M317.3 364.1 L325.2 368.9 M321.0 368.5 L325.2 368.9 L322.9 365.4 M335.5 364.1 L345.0 369.0 M340.2 368.9 L345.0 369.0 L342.1 365.2 M353.7 364.1 L364.7 371.0 M358.9 370.4 L364.7 371.0 L361.6 366.1 M371.8 364.1 L384.4 372.9 M377.6 371.8 L384.4 372.9 L381.0 366.9 M390.0 364.1 L403.5 375.4 M395.8 373.5 L403.5 375.4 L400.3 368.2 M408.2 364.1 L420.0 378.2 M412.5 374.8 L420.0 378.2 L418.0 370.2 M426.4 364.1 L436.1 379.7 M429.1 375.3 L436.1 379.7 L435.3 371.5 M444.6 364.1 L453.2 379.0 M446.8 374.7 L453.2 379.0 L452.6 371.3 M462.7 364.1 L471.7 377.9 M465.4 374.1 L471.7 377.9 L470.8 370.6 M480.9 364.1 L490.4 377.6 M483.9 374.0 L490.4 377.6 L489.2 370.3 M499.1 364.1 L509.2 376.6 M502.7 373.6 L509.2 376.6 L507.6 369.6 M517.3 364.1 L526.7 376.2 M520.5 373.2 L526.7 376.2 L525.3 369.5 M535.5 364.1 L544.2 375.3 M538.5 372.5 L544.2 375.3 L542.9 369.1 M553.7 364.1 L562.9 373.3 M557.3 371.4 L562.9 373.3 L560.9 367.8 M571.8 364.1 L581.9 371.7 M576.3 370.6 L581.9 371.7 L579.3 366.7 M590.0 364.1 L600.6 370.3 M595.1 369.9 L600.6 370.3 L597.5 365.7 M608.2 364.1 L620.0 365.4 M615.0 367.2 L620.0 365.4 L615.5 362.6 M626.4 364.1 L637.0 365.3 M632.5 366.9 L637.0 365.3 L632.9 362.7 M644.6 364.1 L652.1 365.6 M648.7 366.5 L652.1 365.6 L649.3 363.5 M662.0 364.1 h1.5 M680.9 364.1 L680.9 367.2 M680.1 365.4 L680.9 367.2 L681.8 365.4 M699.1 364.1 L699.7 371.0 M698.1 368.3 L699.7 371.0 L700.8 368.1 M717.3 364.1 L718.6 374.8 M716.0 370.7 L718.6 374.8 L720.2 370.2 M735.5 364.1 L736.9 377.8 M733.6 372.6 L736.9 377.8 L739.0 372.0 M753.7 364.1 L756.2 380.4 M752.0 374.3 L756.2 380.4 L758.4 373.3 M771.8 364.1 L773.1 382.4 M769.0 375.3 L773.1 382.4 L776.2 374.8 M790.0 364.1 L791.3 382.8 M787.1 375.5 L791.3 382.8 L794.5 375.0 M280.9 382.3 L285.0 384.4 M283.0 384.4 L285.0 384.4 L283.8 382.7 M299.1 382.3 L304.2 384.0 M301.8 384.3 L304.2 384.0 L302.5 382.3 M317.3 382.3 L323.2 383.8 M320.5 384.4 L323.2 383.8 L321.1 382.0 M335.5 382.3 L342.2 384.0 M339.1 384.6 L342.2 384.0 L339.8 382.0 M353.7 382.3 L361.7 384.9 M357.9 385.4 L361.7 384.9 L358.9 382.3 M371.8 382.3 L382.0 385.6 M377.2 386.3 L382.0 385.6 L378.6 382.3 M390.0 382.3 L401.3 388.8 M395.4 388.4 L401.3 388.8 L398.0 384.0 M408.2 382.3 L418.4 393.7 M412.1 391.1 L418.4 393.7 L416.5 387.1 M426.4 382.3 L436.2 396.9 M429.4 392.9 L436.2 396.9 L435.1 389.1 M444.6 382.3 L453.3 399.3 M446.4 394.2 L453.3 399.3 L453.1 390.7 M462.7 382.3 L469.9 399.2 M463.7 393.8 L469.9 399.2 L470.4 391.0 M480.9 382.3 L488.7 397.6 M482.6 393.0 L488.7 397.6 L488.6 389.9 M499.1 382.3 L509.2 394.8 M502.7 391.7 L509.2 394.8 L507.6 387.8 M517.3 382.3 L527.0 392.1 M521.2 390.0 L527.0 392.1 L525.0 386.2 M535.5 382.3 L543.6 390.4 M538.7 388.7 L543.6 390.4 L541.9 385.5 M553.7 382.3 L561.6 389.0 M557.1 387.8 L561.6 389.0 L559.7 384.7 M571.8 382.3 L580.4 388.1 M575.8 387.4 L580.4 388.1 L578.1 384.1 M590.0 382.3 L600.2 387.5 M595.1 387.4 L600.2 387.5 L597.1 383.4 M608.2 382.3 L619.3 385.1 M614.3 386.2 L619.3 385.1 L615.4 381.8 M626.4 382.3 L636.8 384.7 M632.1 385.8 L636.8 384.7 L633.1 381.7 M644.6 382.3 L652.4 385.5 M648.6 385.7 L652.4 385.5 L649.8 382.6 M662.7 382.3 L665.4 383.8 M663.4 383.7 L665.4 383.8 L664.3 382.2 M680.9 382.3 L681.4 384.9 M680.2 383.3 L681.4 384.9 L681.9 383.0 M699.1 382.3 L700.6 388.3 M698.8 386.1 L700.6 388.3 L701.2 385.6 M717.3 382.3 L720.2 391.4 M717.3 388.3 L720.2 391.4 L720.8 387.1 M735.5 382.3 L738.2 393.4 M734.9 389.5 L738.2 393.4 L739.3 388.4 M753.7 382.3 L756.9 395.3 M753.0 390.7 L756.9 395.3 L758.1 389.4 M771.8 382.3 L775.4 396.8 M771.1 391.6 L775.4 396.8 L776.8 390.2 M790.0 382.3 L793.9 397.9 M789.3 392.4 L793.9 397.9 L795.4 390.8 M280.9 400.5 L284.5 401.8 M282.5 402.0 L284.5 401.8 L283.1 400.4 M299.1 400.5 L302.0 401.4 M300.0 401.7 L302.0 401.4 L300.6 400.0 M317.3 400.5 L319.9 401.2 M317.9 401.6 L319.9 401.2 L318.4 399.9 M335.5 400.5 L339.9 401.7 M337.9 402.1 L339.9 401.7 L338.3 400.3 M353.7 400.5 L359.5 402.4 M356.7 402.8 L359.5 402.4 L357.5 400.5 M371.8 400.5 L379.1 402.9 M375.7 403.3 L379.1 402.9 L376.6 400.5 M390.0 400.5 L397.3 406.1 M393.2 405.3 L397.3 406.1 L395.4 402.4 M408.2 400.5 L417.4 408.5 M412.1 407.1 L417.4 408.5 L415.3 403.4 M426.4 400.5 L436.6 411.9 M430.2 409.3 L436.6 411.9 L434.7 405.2 M444.6 400.5 L453.5 416.5 M446.7 411.8 L453.5 416.5 L453.0 408.3 M462.7 400.5 L470.9 416.5 M464.5 411.6 L470.9 416.5 L470.8 408.4 M480.9 400.5 L487.3 414.8 M481.9 410.3 L487.3 414.8 L487.6 407.8 M499.1 400.5 L506.6 411.6 M501.4 408.6 L506.6 411.6 L505.8 405.6 M517.3 400.5 L524.4 409.0 M519.9 407.0 L524.4 409.0 L523.2 404.1 M535.5 400.5 L542.2 407.2 M538.2 405.8 L542.2 407.2 L540.8 403.2 M553.7 400.5 L559.9 406.7 M556.1 405.4 L559.9 406.7 L558.6 403.0 M571.8 400.5 L579.7 405.2 M575.6 404.9 L579.7 405.2 L577.5 401.8 M590.0 400.5 L600.7 404.8 M595.5 405.1 L600.7 404.8 L597.2 401.0 M608.2 400.5 L620.3 404.0 M614.7 405.0 L620.3 404.0 L616.1 400.2 M626.4 400.5 L637.5 404.5 M632.2 405.1 L637.5 404.5 L633.8 400.7 M644.6 400.5 L654.1 405.3 M649.3 405.3 L654.1 405.3 L651.2 401.5 M662.7 400.5 L669.5 405.5 M665.8 404.8 L669.5 405.5 L667.7 402.2 M680.9 400.5 L686.0 403.9 M683.3 403.5 L686.0 403.9 L684.6 401.5 M699.1 400.5 L702.6 407.3 M699.8 405.2 L702.6 407.3 L702.5 403.9 M717.3 400.5 L720.4 409.9 M717.3 406.7 L720.4 409.9 L721.0 405.5 M735.5 400.5 L738.6 411.5 M735.2 407.7 L738.6 411.5 L739.5 406.4 M753.7 400.5 L758.0 411.9 M754.0 408.2 L758.0 411.9 L758.5 406.4 M771.8 400.5 L775.9 412.9 M771.8 408.6 L775.9 412.9 L776.7 407.1 M790.0 400.5 L794.0 412.9 M790.0 408.6 L794.0 412.9 L794.9 407.1 M299.1 418.7 L302.5 423.7 M300.2 422.4 L302.5 423.7 L302.2 421.0 M317.3 418.7 L319.4 424.4 M317.4 422.5 L319.4 424.4 L319.7 421.7 M335.5 418.7 L339.9 421.7 M337.5 421.3 L339.9 421.7 L338.7 419.6 M353.7 418.7 L358.1 421.7 M355.7 421.3 L358.1 421.7 L356.9 419.6 M371.8 418.7 L377.0 422.6 M374.2 422.0 L377.0 422.6 L375.7 420.0 M390.0 418.7 L396.6 424.0 M392.9 423.1 L396.6 424.0 L395.0 420.5 M408.2 418.7 L416.7 425.8 M411.9 424.6 L416.7 425.8 L414.7 421.2 M426.4 418.7 L435.1 429.4 M429.4 426.7 L435.1 429.4 L433.7 423.3 M444.6 418.7 L453.8 431.3 M447.6 428.0 L453.8 431.3 L452.6 424.4 M462.7 418.7 L473.3 431.3 M466.5 428.3 L473.3 431.3 L471.5 424.1 M480.9 418.7 L490.8 430.4 M484.5 427.6 L490.8 430.4 L489.1 423.7 M499.1 418.7 L507.6 428.0 M502.3 425.9 L507.6 428.0 L506.0 422.6 M517.3 418.7 L524.6 426.0 M520.2 424.5 L524.6 426.0 L523.1 421.6 M535.5 418.7 L542.6 424.4 M538.6 423.5 L542.6 424.4 L540.9 420.7 M553.7 418.7 L560.5 424.2 M556.6 423.3 L560.5 424.2 L558.8 420.6 M571.8 418.7 L580.4 423.0 M576.1 422.9 L580.4 423.0 L577.8 419.6 M590.0 418.7 L600.2 422.0 M595.4 422.6 L600.2 422.0 L596.7 418.6 M608.2 418.7 L620.4 421.7 M614.9 422.9 L620.4 421.7 L616.1 418.1 M626.4 418.7 L638.6 421.7 M633.1 422.9 L638.6 421.7 L634.3 418.1 M644.6 418.7 L655.8 422.3 M650.6 423.1 L655.8 422.3 L652.0 418.6 M662.7 418.7 L670.5 424.9 M666.1 423.9 L670.5 424.9 L668.6 420.9 M680.9 418.7 L686.6 423.2 M683.4 422.5 L686.6 423.2 L685.2 420.3 M699.1 418.7 L704.5 424.1 M701.3 423.0 L704.5 424.1 L703.4 420.8 M717.3 418.7 L721.5 426.8 M718.2 424.4 L721.5 426.8 L721.4 422.7 M735.5 418.7 L739.5 428.6 M735.9 425.4 L739.5 428.6 L739.8 423.8 M753.7 418.7 L758.9 428.9 M754.7 425.8 L758.9 428.9 L758.8 423.7 M771.8 418.7 L776.6 429.9 M772.5 426.3 L776.6 429.9 L776.9 424.4 M790.0 418.7 L794.8 429.9 M790.6 426.3 L794.8 429.9 L795.1 424.4 M335.5 436.8 L336.3 445.2 M334.3 442.0 L336.3 445.2 L337.6 441.7 M353.7 436.8 L354.5 446.0 M352.4 442.5 L354.5 446.0 L356.0 442.1 M371.8 436.8 L375.3 446.2 M372.0 443.1 L375.3 446.2 L375.7 441.7 M390.0 436.8 L395.5 446.0 M391.5 443.4 L395.5 446.0 L395.1 441.2 M408.2 436.8 L414.2 445.7 M410.0 443.3 L414.2 445.7 L413.5 440.9 M426.4 436.8 L432.8 446.3 M428.3 443.8 L432.8 446.3 L432.1 441.2 M444.6 436.8 L451.1 448.1 M446.2 444.8 L451.1 448.1 L450.7 442.3 M462.7 436.8 L468.4 449.4 M463.6 445.4 L468.4 449.4 L468.6 443.2 M480.9 436.8 L485.2 449.9 M480.9 445.5 L485.2 449.9 L486.1 443.8 M499.1 436.8 L502.7 447.7 M499.1 444.0 L502.7 447.7 L503.4 442.6 M517.3 436.8 L520.1 446.4 M517.1 443.1 L520.1 446.4 L520.8 442.0 M535.5 436.8 L539.7 445.0 M536.4 442.5 L539.7 445.0 L539.6 440.9 M553.7 436.8 L559.0 443.4 M555.5 441.8 L559.0 443.4 L558.1 439.7 M571.8 436.8 L578.3 442.2 M574.6 441.3 L578.3 442.2 L576.7 438.8 M590.0 436.8 L599.5 439.9 M595.0 440.5 L599.5 439.9 L596.3 436.8 M608.2 436.8 L619.2 438.4 M614.4 439.9 L619.2 438.4 L615.1 435.6 M626.4 436.8 L637.5 436.9 M633.0 439.0 L637.5 436.9 L633.0 434.7 M644.6 436.8 L654.9 436.9 M650.7 438.9 L654.9 436.9 L650.7 434.8 M662.7 436.8 L671.5 438.1 M667.7 439.3 L671.5 438.1 L668.2 435.9 M680.9 436.8 L687.5 439.0 M684.4 439.4 L687.5 439.0 L685.2 436.8 M699.1 436.8 L705.5 439.4 M702.4 439.6 L705.5 439.4 L703.4 437.1 M717.3 436.8 L723.4 441.4 M720.0 440.8 L723.4 441.4 L721.8 438.4 M735.5 436.8 L741.5 444.8 M737.5 442.7 L741.5 444.8 L740.6 440.4 M753.7 436.8 L758.5 446.4 M754.7 443.5 L758.5 446.4 L758.4 441.6 M771.8 436.8 L778.0 447.4 M773.4 444.4 L778.0 447.4 L777.6 441.9 M790.0 436.8 L797.1 449.6 M791.7 445.8 L797.1 449.6 L796.7 443.0 M335.5 455.0 L334.9 465.7 M333.0 461.3 L334.9 465.7 L337.3 461.5 M353.7 455.0 L352.9 466.5 M351.0 461.7 L352.9 466.5 L355.5 462.0 M371.8 455.0 L371.0 466.5 M369.1 461.7 L371.0 466.5 L373.6 462.0 M390.0 455.0 L390.2 467.2 M387.7 462.3 L390.2 467.2 L392.6 462.3 M408.2 455.0 L409.7 466.4 M406.8 462.1 L409.7 466.4 L411.3 461.5 M426.4 455.0 L428.1 467.9 M424.8 463.0 L428.1 467.9 L429.9 462.4 M444.6 455.0 L446.4 469.4 M442.8 464.0 L446.4 469.4 L448.5 463.2 M462.7 455.0 L464.4 470.2 M460.7 464.4 L464.4 470.2 L466.7 463.7 M480.9 455.0 L482.5 469.8 M479.0 464.2 L482.5 469.8 L484.8 463.5 M499.1 455.0 L500.6 468.7 M497.3 463.5 L500.6 468.7 L502.7 462.9 M517.3 455.0 L518.7 466.4 M515.9 462.1 L518.7 466.4 L520.4 461.5 M535.5 455.0 L537.9 464.7 M535.0 461.2 L537.9 464.7 L538.8 460.3 M553.7 455.0 L557.0 463.6 M554.0 460.8 L557.0 463.6 L557.3 459.4 M571.8 455.0 L577.3 461.5 M573.8 459.9 L577.3 461.5 L576.3 457.8 M590.0 455.0 L597.6 460.1 M593.5 459.6 L597.6 460.1 L595.6 456.6 M608.2 455.0 L615.4 460.8 M611.3 459.8 L615.4 460.8 L613.6 457.0 M626.4 455.0 L635.2 457.6 M631.1 458.3 L635.2 457.6 L632.1 454.8 M644.6 455.0 L653.7 456.3 M649.7 457.6 L653.7 456.3 L650.2 454.0 M662.7 455.0 L671.2 455.0 M667.8 456.7 L671.2 455.0 L667.8 453.4 M680.9 455.0 L688.6 455.5 M685.4 456.8 L688.6 455.5 L685.6 453.8 M699.1 455.0 L706.7 456.2 M703.4 457.2 L706.7 456.2 L703.8 454.2 M717.3 455.0 L724.4 457.9 M721.0 458.1 L724.4 457.9 L722.1 455.3 M735.5 455.0 L744.5 456.8 M740.5 457.9 L744.5 456.8 L741.2 454.3 M753.7 455.0 L760.7 462.0 M756.5 460.6 L760.7 462.0 L759.2 457.8 M771.8 455.0 L778.3 464.5 M773.8 461.9 L778.3 464.5 L777.5 459.4 M790.0 455.0 L796.1 465.6 M791.6 462.5 L796.1 465.6 L795.8 460.1 M335.5 473.2 L333.4 485.2 M331.8 480.0 L333.4 485.2 L336.6 480.8 M353.7 473.2 L349.8 486.4 M348.7 480.3 L349.8 486.4 L353.9 481.8 M371.8 473.2 L369.5 486.7 M367.7 480.8 L369.5 486.7 L373.1 481.7 M390.0 473.2 L387.3 487.5 M385.6 481.2 L387.3 487.5 L391.2 482.2 M408.2 473.2 L407.2 487.7 M404.8 481.6 L407.2 487.7 L410.5 482.0 M426.4 473.2 L424.6 488.4 M422.3 481.9 L424.6 488.4 L428.3 482.6 M444.6 473.2 L443.8 488.5 M441.1 482.1 L443.8 488.5 L447.1 482.4 M462.7 473.2 L461.3 488.4 M458.9 482.0 L461.3 488.4 L464.9 482.5 M480.9 473.2 L480.9 487.7 M478.1 481.8 L480.9 487.7 L483.8 481.8 M499.1 473.2 L499.2 487.3 M496.3 481.6 L499.2 487.3 L501.9 481.6 M517.3 473.2 L518.2 486.2 M515.3 481.1 L518.2 486.2 L520.4 480.7 M535.5 473.2 L538.2 484.3 M534.9 480.4 L538.2 484.3 L539.3 479.3 M553.7 473.2 L557.4 482.8 M554.0 479.7 L557.4 482.8 L557.8 478.2 M571.8 473.2 L577.0 480.8 M573.4 478.7 L577.0 480.8 L576.4 476.7 M590.0 473.2 L596.7 478.9 M592.9 477.9 L596.7 478.9 L595.1 475.2 M608.2 473.2 L615.2 480.2 M611.0 478.8 L615.2 480.2 L613.8 476.0 M626.4 473.2 L634.6 478.7 M630.2 478.1 L634.6 478.7 L632.4 474.9 M644.6 473.2 L653.4 477.7 M649.0 477.6 L653.4 477.7 L650.7 474.1 M662.7 473.2 L672.2 474.9 M668.0 476.0 L672.2 474.9 L668.7 472.3 M680.9 473.2 L690.1 474.1 M686.2 475.6 L690.1 474.1 L686.6 472.0 M699.1 473.2 L708.3 473.2 M704.6 475.0 L708.3 473.2 L704.6 471.4 M717.3 473.2 L726.3 474.9 M722.3 476.0 L726.3 474.9 L723.0 472.5 M735.5 473.2 L744.9 476.3 M740.5 476.9 L744.9 476.3 L741.7 473.1 M753.7 473.2 L763.2 478.1 M758.4 478.0 L763.2 478.1 L760.3 474.2 M771.8 473.2 L782.0 478.4 M776.9 478.3 L782.0 478.4 L779.0 474.3 M790.0 473.2 L797.4 482.0 M792.7 479.9 L797.4 482.0 L796.2 477.0 M317.3 491.4 L322.0 497.4 M318.9 495.9 L322.0 497.4 L321.3 494.0 M335.5 491.4 L332.7 504.1 M331.3 498.4 L332.7 504.1 L336.3 499.5 M353.7 491.4 L348.7 505.8 M347.9 499.0 L348.7 505.8 L353.6 501.0 M371.8 491.4 L366.4 506.5 M365.6 499.3 L366.4 506.5 L371.6 501.4 M390.0 491.4 L383.4 506.0 M383.2 498.8 L383.4 506.0 L389.0 501.4 M408.2 491.4 L403.7 506.4 M402.5 499.4 L403.7 506.4 L408.5 501.2 M426.4 491.4 L423.7 506.8 M421.7 500.0 L423.7 506.8 L427.8 501.1 M444.6 491.4 L442.2 506.5 M440.2 499.9 L442.2 506.5 L446.1 500.8 M462.7 491.4 L461.1 506.6 M458.8 500.1 L461.1 506.6 L464.8 500.7 M480.9 491.4 L480.1 506.6 M477.4 500.3 L480.1 506.6 L483.5 500.6 M499.1 491.4 L499.1 506.7 M496.1 500.5 L499.1 506.7 L502.1 500.5 M517.3 491.4 L518.3 505.9 M515.0 500.2 L518.3 505.9 L520.8 499.8 M535.5 491.4 L538.5 504.4 M534.7 499.7 L538.5 504.4 L539.8 498.5 M553.7 491.4 L558.0 502.8 M554.0 499.0 L558.0 502.8 L558.5 497.3 M571.8 491.4 L578.6 500.7 M574.0 498.2 L578.6 500.7 L577.7 495.6 M590.0 491.4 L597.6 498.9 M593.0 497.4 L597.6 498.9 L596.0 494.4 M608.2 491.4 L616.0 499.2 M611.3 497.6 L616.0 499.2 L614.4 494.5 M626.4 491.4 L635.7 498.1 M630.6 497.2 L635.7 498.1 L633.2 493.6 M644.6 491.4 L653.9 498.1 M648.8 497.2 L653.9 498.1 L651.4 493.5 M662.7 491.4 L672.6 496.4 M667.6 496.3 L672.6 496.4 L669.6 492.4 M680.9 491.4 L691.3 495.3 M686.3 495.8 L691.3 495.3 L687.9 491.7 M699.1 491.4 L709.8 495.5 M704.7 495.9 L709.8 495.5 L706.3 491.7 M717.3 491.4 L727.9 495.8 M722.7 496.1 L727.9 495.8 L724.5 491.9 M735.5 491.4 L746.0 495.8 M740.9 496.1 L746.0 495.8 L742.6 491.9 M753.7 491.4 L764.4 495.5 M759.2 495.9 L764.4 495.5 L760.8 491.7 M771.8 491.4 L782.5 495.5 M777.4 495.9 L782.5 495.5 L779.0 491.7 M790.0 491.4 L800.0 497.1 M794.8 496.7 L800.0 497.1 L797.1 492.8 M299.1 509.5 L311.3 514.1 M305.5 514.6 L311.3 514.1 L307.3 509.8 M317.3 509.5 L328.5 518.2 M322.3 516.9 L328.5 518.2 L325.7 512.5 M335.5 509.5 L336.3 522.1 M333.5 517.2 L336.3 522.1 L338.5 516.9 M353.7 509.5 L350.1 523.6 M348.8 517.2 L350.1 523.6 L354.3 518.6 M371.8 509.5 L365.4 524.2 M365.1 517.0 L365.4 524.2 L370.9 519.6 M390.0 509.5 L383.3 524.6 M383.1 517.2 L383.3 524.6 L389.0 519.8 M408.2 509.5 L402.5 525.4 M401.7 517.8 L402.5 525.4 L407.9 520.1 M426.4 509.5 L422.4 525.5 M420.9 518.3 L422.4 525.5 L427.2 519.8 M444.6 509.5 L441.7 525.7 M439.7 518.6 L441.7 525.7 L446.1 519.7 M462.7 509.5 L460.2 525.8 M458.0 518.7 L460.2 525.8 L464.4 519.7 M480.9 509.5 L479.5 525.9 M476.9 519.0 L479.5 525.9 L483.3 519.6 M499.1 509.5 L499.1 526.0 M495.9 519.3 L499.1 526.0 L502.3 519.3 M517.3 509.5 L518.1 525.2 M514.7 519.0 L518.1 525.2 L520.9 518.7 M535.5 509.5 L538.3 524.2 M534.3 518.8 L538.3 524.2 L540.1 517.7 M553.7 509.5 L560.0 522.2 M555.0 518.3 L560.0 522.2 L559.9 515.8 M571.8 509.5 L580.6 519.7 M575.0 517.3 L580.6 519.7 L579.0 513.8 M590.0 509.5 L599.6 517.7 M594.1 516.3 L599.6 517.7 L597.4 512.5 M608.2 509.5 L616.5 519.0 M611.3 516.8 L616.5 519.0 L615.0 513.6 M626.4 509.5 L636.2 518.1 M630.5 516.6 L636.2 518.1 L633.9 512.7 M644.6 509.5 L654.4 518.1 M648.7 516.5 L654.4 518.1 L652.1 512.7 M662.7 509.5 L673.5 516.2 M667.8 515.6 L673.5 516.2 L670.4 511.4 M680.9 509.5 L692.1 514.5 M686.6 514.7 L692.1 514.5 L688.6 510.3 M699.1 509.5 L710.0 515.1 M704.5 515.0 L710.0 515.1 L706.7 510.7 M717.3 509.5 L728.7 513.9 M723.2 514.4 L728.7 513.9 L725.0 509.9 M735.5 509.5 L746.9 513.9 M741.4 514.4 L746.9 513.9 L743.1 509.9 M753.7 509.5 L764.7 513.8 M759.4 514.2 L764.7 513.8 L761.1 509.9 M771.8 509.5 L783.0 512.1 M778.0 513.3 L783.0 512.1 L779.0 508.9 M790.0 509.5 L800.6 514.0 M795.4 514.3 L800.6 514.0 L797.2 510.1 M280.9 527.7 L296.5 535.0 M288.8 535.1 L296.5 535.0 L291.7 529.0 M299.1 527.7 L316.0 534.9 M307.8 535.3 L316.0 534.9 L310.6 528.7 M317.3 527.7 L332.2 536.4 M324.4 535.8 L332.2 536.4 L327.9 529.9 M335.5 527.7 L340.9 540.0 M336.3 536.1 L340.9 540.0 L341.1 533.9 M353.7 527.7 L352.5 540.7 M350.4 535.2 L352.5 540.7 L355.6 535.6 M371.8 527.7 L370.7 542.6 M368.2 536.3 L370.7 542.6 L374.1 536.8 M390.0 527.7 L385.4 543.9 M384.1 536.4 L385.4 543.9 L390.4 538.3 M408.2 527.7 L404.4 544.1 M402.7 536.7 L404.4 544.1 L409.2 538.2 M426.4 527.7 L423.7 544.3 M421.5 537.1 L423.7 544.3 L428.1 538.1 M444.6 527.7 L443.3 544.9 M440.4 537.7 L443.3 544.9 L447.2 538.2 M462.7 527.7 L461.5 544.9 M458.6 537.7 L461.5 544.9 L465.4 538.2 M480.9 527.7 L480.0 544.9 M477.0 537.8 L480.0 544.9 L483.8 538.1 M499.1 527.7 L500.3 544.5 M496.5 537.9 L500.3 544.5 L503.1 537.5 M517.3 527.7 L519.8 544.0 M515.6 537.9 L519.8 544.0 L522.0 536.9 M535.5 527.7 L540.8 542.5 M535.7 537.5 L540.8 542.5 L541.5 535.5 M553.7 527.7 L560.6 541.3 M555.1 537.2 L560.6 541.3 L560.5 534.5 M571.8 527.7 L581.0 539.5 M575.0 536.5 L581.0 539.5 L579.6 532.9 M590.0 527.7 L599.6 538.7 M593.5 536.1 L599.6 538.7 L597.9 532.3 M608.2 527.7 L617.2 539.2 M611.3 536.3 L617.2 539.2 L615.8 532.8 M626.4 527.7 L636.7 538.0 M630.5 535.9 L636.7 538.0 L634.5 531.8 M644.6 527.7 L654.6 537.7 M648.6 535.6 L654.6 537.7 L652.5 531.7 M662.7 527.7 L673.3 536.0 M667.4 534.7 L673.3 536.0 L670.7 530.5 M680.9 527.7 L691.7 535.0 M685.9 534.2 L691.7 535.0 L688.8 529.9 M699.1 527.7 L710.1 533.8 M704.5 533.5 L710.1 533.8 L706.9 529.2 M717.3 527.7 L728.8 532.9 M723.1 533.0 L728.8 532.9 L725.2 528.5 M735.5 527.7 L746.9 532.1 M741.4 532.6 L746.9 532.1 L743.1 528.1 M753.7 527.7 L765.2 530.4 M760.0 531.6 L765.2 530.4 L761.1 527.0 M771.8 527.7 L783.4 530.4 M778.2 531.6 L783.4 530.4 L779.2 527.0 M790.0 527.7 L801.0 530.9 M796.0 531.8 L801.0 530.9 L797.2 527.4 M262.7 545.9 L275.8 553.8 M269.0 553.2 L275.8 553.8 L272.1 548.0 M280.9 545.9 L295.2 556.2 M287.4 554.8 L295.2 556.2 L291.5 549.2 M299.1 545.9 L314.5 555.8 M306.3 554.9 L314.5 555.8 L310.3 548.8 M317.3 545.9 L331.9 555.0 M324.2 554.2 L331.9 555.0 L327.8 548.5 M335.5 545.9 L345.7 556.3 M339.5 554.1 L345.7 556.3 L343.6 550.1 M353.7 545.9 L356.8 557.7 M353.2 553.6 L356.8 557.7 L357.9 552.3 M371.8 545.9 L372.8 560.4 M369.6 554.7 L372.8 560.4 L375.3 554.3 M390.0 545.9 L388.8 562.3 M386.1 555.4 L388.8 562.3 L392.6 555.9 M408.2 545.9 L408.1 561.6 M405.1 555.2 L408.1 561.6 L411.3 555.2 M426.4 545.9 L427.4 562.3 M423.8 555.9 L427.4 562.3 L430.2 555.5 M444.6 545.9 L445.7 563.1 M441.9 556.3 L445.7 563.1 L448.7 555.9 M462.7 545.9 L466.0 563.2 M461.3 556.8 L466.0 563.2 L468.1 555.5 M480.9 545.9 L483.3 563.3 M478.9 556.7 L483.3 563.3 L485.8 555.8 M499.1 545.9 L502.6 562.7 M497.9 556.6 L502.6 562.7 L504.5 555.2 M517.3 545.9 L522.2 562.0 M517.0 556.4 L522.2 562.0 L523.4 554.5 M535.5 545.9 L543.4 560.3 M537.3 556.0 L543.4 560.3 L543.0 552.9 M553.7 545.9 L562.8 559.1 M556.5 555.6 L562.8 559.1 L561.7 551.9 M571.8 545.9 L580.9 558.7 M574.7 555.3 L580.9 558.7 L579.7 551.8 M590.0 545.9 L599.7 558.2 M593.3 555.2 L599.7 558.2 L598.2 551.3 M608.2 545.9 L617.4 559.0 M611.1 555.5 L617.4 559.0 L616.3 551.9 M626.4 545.9 L636.6 557.3 M630.2 554.7 L636.6 557.3 L634.7 550.6 M644.6 545.9 L654.3 556.7 M648.2 554.2 L654.3 556.7 L652.5 550.4 M662.7 545.9 L672.2 555.3 M666.5 553.4 L672.2 555.3 L670.3 549.7 M680.9 545.9 L690.7 554.4 M685.1 552.9 L690.7 554.4 L688.5 549.0 M699.1 545.9 L709.2 553.5 M703.6 552.4 L709.2 553.5 L706.6 548.4 M717.3 545.9 L728.0 552.6 M722.3 552.0 L728.0 552.6 L725.0 547.8 M735.5 545.9 L746.4 551.4 M740.9 551.3 L746.4 551.4 L743.1 547.0 M753.7 545.9 L764.6 551.4 M759.1 551.3 L764.6 551.4 L761.2 547.0 M771.8 545.9 L783.0 550.9 M777.5 551.1 L783.0 550.9 L779.5 546.6 M790.0 545.9 L800.3 551.8 M795.0 551.4 L800.3 551.8 L797.3 547.4 M244.6 564.1 L259.2 575.1 M251.1 573.5 L259.2 575.1 L255.5 567.8 M262.7 564.1 L276.7 576.6 M268.6 574.3 L276.7 576.6 L273.5 568.8 M280.9 564.1 L294.2 577.3 M286.2 574.6 L294.2 577.3 L291.5 569.3 M299.1 564.1 L313.9 575.6 M305.6 573.8 L313.9 575.6 L310.2 568.0 M317.3 564.1 L332.6 574.8 M324.3 573.5 L332.6 574.8 L328.5 567.5 M335.5 564.1 L347.0 576.8 M339.8 573.9 L347.0 576.8 L344.9 569.4 M353.7 564.1 L360.6 577.3 M355.2 573.3 L360.6 577.3 L360.4 570.5 M371.8 564.1 L374.5 577.6 M370.7 572.6 L374.5 577.6 L376.1 571.6 M390.0 564.1 L391.0 578.6 M387.8 572.9 L391.0 578.6 L393.5 572.5 M408.2 564.1 L410.0 579.2 M406.3 573.5 L410.0 579.2 L412.3 572.7 M426.4 564.1 L429.5 580.2 M425.0 574.3 L429.5 580.2 L431.4 573.1 M444.6 564.1 L448.2 581.3 M443.3 575.0 L448.2 581.3 L450.1 573.6 M462.7 564.1 L467.4 581.4 M462.1 575.3 L467.4 581.4 L468.9 573.5 M480.9 564.1 L486.0 581.7 M480.4 575.6 L486.0 581.7 L487.4 573.6 M499.1 564.1 L505.5 580.9 M499.6 575.3 L505.5 580.9 L506.2 572.8 M517.3 564.1 L523.5 580.1 M517.8 574.8 L523.5 580.1 L524.1 572.4 M535.5 564.1 L544.4 578.4 M537.9 574.3 L544.4 578.4 L543.6 570.8 M553.7 564.1 L563.1 577.5 M556.6 573.9 L563.1 577.5 L561.9 570.2 M571.8 564.1 L581.1 577.2 M574.7 573.7 L581.1 577.2 L579.9 570.1 M590.0 564.1 L599.4 576.1 M593.2 573.1 L599.4 576.1 L598.0 569.4 M608.2 564.1 L617.0 576.6 M611.0 573.3 L617.0 576.6 L615.9 569.8 M626.4 564.1 L636.1 574.9 M630.0 572.4 L636.1 574.9 L634.3 568.6 M644.6 564.1 L654.3 573.8 M648.4 571.8 L654.3 573.8 L652.3 567.9 M662.7 564.1 L671.9 573.3 M666.4 571.4 L671.9 573.3 L670.0 567.7 M680.9 564.1 L690.5 572.3 M685.0 570.9 L690.5 572.3 L688.2 567.1 M699.1 564.1 L708.6 572.3 M703.2 570.9 L708.6 572.3 L706.4 567.1 M717.3 564.1 L727.0 572.2 M721.5 570.8 L727.0 572.2 L724.7 567.0 M735.5 564.1 L745.7 571.5 M740.1 570.5 L745.7 571.5 L743.0 566.5 M753.7 564.1 L764.4 570.7 M758.7 570.2 L764.4 570.7 L761.3 565.9 M771.8 564.1 L782.7 569.6 M777.2 569.5 L782.7 569.6 L779.4 565.2 M790.0 564.1 L800.0 571.1 M794.6 570.2 L800.0 571.1 L797.4 566.3 M208.2 582.2 L223.5 593.7 M215.0 592.1 L223.5 593.7 L219.6 586.1 M226.4 582.2 L241.7 595.1 M233.0 592.9 L241.7 595.1 L238.1 586.9 M244.6 582.2 L260.3 595.4 M251.3 593.2 L260.3 595.4 L256.5 587.0 M262.7 582.2 L278.3 596.7 M269.1 593.9 L278.3 596.7 L274.8 587.8 M280.9 582.2 L296.6 596.8 M287.4 594.0 L296.6 596.8 L293.1 587.8 M299.1 582.2 L314.4 596.5 M305.4 593.7 L314.4 596.5 L311.0 587.7 M317.3 582.2 L332.7 597.5 M323.4 594.4 L332.7 597.5 L329.5 588.3 M335.5 582.2 L349.6 597.4 M340.9 594.0 L349.6 597.4 L346.9 588.5 M353.7 582.2 L363.8 598.0 M356.6 593.6 L363.8 598.0 L362.8 589.6 M371.8 582.2 L378.2 599.0 M372.3 593.5 L378.2 599.0 L379.0 591.0 M390.0 582.2 L393.4 599.5 M388.6 593.2 L393.4 599.5 L395.4 591.9 M408.2 582.2 L411.6 599.9 M406.8 593.4 L411.6 599.9 L413.7 592.1 M426.4 582.2 L432.4 599.2 M426.6 593.5 L432.4 599.2 L433.3 591.1 M444.6 582.2 L449.2 599.6 M443.9 593.5 L449.2 599.6 L450.8 591.7 M462.7 582.2 L468.7 598.8 M463.0 593.3 L468.7 598.8 L469.6 590.9 M480.9 582.2 L486.8 598.4 M481.2 593.0 L486.8 598.4 L487.6 590.7 M499.1 582.2 L505.7 597.7 M500.0 592.8 L505.7 597.7 L506.1 590.2 M517.3 582.2 L525.0 596.3 M519.1 592.1 L525.0 596.3 L524.7 589.1 M535.5 582.2 L543.4 595.3 M537.6 591.6 L543.4 595.3 L542.8 588.5 M553.7 582.2 L562.8 594.0 M556.8 591.1 L562.8 594.0 L561.4 587.4 M571.8 582.2 L581.4 593.2 M575.3 590.7 L581.4 593.2 L579.7 586.9 M590.0 582.2 L600.1 591.1 M594.3 589.5 L600.1 591.1 L597.7 585.5 M608.2 582.2 L616.9 590.9 M611.6 589.1 L616.9 590.9 L615.1 585.7 M626.4 582.2 L636.3 589.4 M630.9 588.5 L636.3 589.4 L633.7 584.6 M644.6 582.2 L654.1 589.2 M648.9 588.3 L654.1 589.2 L651.6 584.5 M662.7 582.2 L672.3 589.2 M667.1 588.3 L672.3 589.2 L669.8 584.5 M680.9 582.2 L690.5 589.2 M685.3 588.3 L690.5 589.2 L688.0 584.5 M699.1 582.2 L709.0 589.4 M703.6 588.5 L709.0 589.4 L706.4 584.6 M717.3 582.2 L727.2 589.4 M721.8 588.5 L727.2 589.4 L724.6 584.6 M735.5 582.2 L745.2 590.3 M739.6 589.0 L745.2 590.3 L742.8 585.1 M753.7 582.2 L763.9 589.7 M758.3 588.7 L763.9 589.7 L761.2 584.6 M771.8 582.2 L782.1 589.6 M776.5 588.7 L782.1 589.6 L779.4 584.6 M790.0 582.2 L799.7 590.3 M794.2 589.0 L799.7 590.3 L797.4 585.2 M135.5 600.4 L152.5 610.6 M143.6 609.8 L152.5 610.6 L147.6 603.1 M153.7 600.4 L171.3 611.0 M162.0 610.2 L171.3 611.0 L166.2 603.2 M171.8 600.4 L188.8 611.4 M179.8 610.3 L188.8 611.4 L184.1 603.6 M190.0 600.4 L206.1 612.1 M197.3 610.5 L206.1 612.1 L201.9 604.2 M208.2 600.4 L224.4 610.6 M215.8 609.7 L224.4 610.6 L219.9 603.3 M226.4 600.4 L242.1 612.3 M233.4 610.6 L242.1 612.3 L238.1 604.4 M244.6 600.4 L260.5 612.8 M251.6 611.0 L260.5 612.8 L256.5 604.7 M262.7 600.4 L278.5 613.6 M269.5 611.4 L278.5 613.6 L274.7 605.2 M280.9 600.4 L296.2 614.1 M287.3 611.6 L296.2 614.1 L292.7 605.6 M299.1 600.4 L314.1 613.9 M305.4 611.4 L314.1 613.9 L310.7 605.5 M317.3 600.4 L331.5 613.2 M323.2 610.8 L331.5 613.2 L328.3 605.2 M335.5 600.4 L349.4 613.0 M341.3 610.6 L349.4 613.0 L346.2 605.2 M353.7 600.4 L364.9 614.4 M357.6 611.0 L364.9 614.4 L363.1 606.5 M371.8 600.4 L379.5 615.4 M373.4 610.8 L379.5 615.4 L379.3 607.8 M390.0 600.4 L395.5 614.7 M390.5 610.0 L395.5 614.7 L396.1 607.8 M408.2 600.4 L413.5 613.1 M408.9 609.0 L413.5 613.1 L413.9 606.9 M426.4 600.4 L432.1 613.3 M427.3 609.2 L432.1 613.3 L432.4 607.0 M444.6 600.4 L450.4 613.7 M445.4 609.5 L450.4 613.7 L450.7 607.2 M462.7 600.4 L468.7 613.7 M463.6 609.5 L468.7 613.7 L468.9 607.2 M480.9 600.4 L487.5 613.4 M482.3 609.4 L487.5 613.4 L487.4 606.8 M499.1 600.4 L505.6 611.7 M500.8 608.4 L505.6 611.7 L505.2 605.8 M517.3 600.4 L522.1 606.4 M519.0 604.9 L522.1 606.4 L521.3 603.0 M535.5 600.4 L540.6 605.6 M537.5 604.5 L540.6 605.6 L539.5 602.5 M553.7 600.4 L559.3 605.0 M556.1 604.3 L559.3 605.0 L557.9 602.0 M571.8 600.4 L577.8 604.5 M574.6 604.0 L577.8 604.5 L576.2 601.7 M590.0 600.4 L596.7 603.2 M593.5 603.4 L596.7 603.2 L594.6 600.7 M608.2 600.4 L615.3 603.3 M611.9 603.5 L615.3 603.3 L613.0 600.7 M626.4 600.4 L634.2 603.6 M630.4 603.8 L634.2 603.6 L631.7 600.8 M644.6 600.4 L652.7 604.6 M648.6 604.5 L652.7 604.6 L650.3 601.3 M662.7 600.4 L671.4 605.4 M666.9 605.1 L671.4 605.4 L668.9 601.7 M680.9 600.4 L690.2 605.8 M685.4 605.4 L690.2 605.8 L687.5 601.8 M699.1 600.4 L709.0 606.2 M703.9 605.8 L709.0 606.2 L706.2 601.9 M717.3 600.4 L726.9 607.4 M721.6 606.5 L726.9 607.4 L724.4 602.7 M735.5 600.4 L745.4 607.6 M739.9 606.7 L745.4 607.6 L742.8 602.7 M753.7 600.4 L763.6 607.6 M758.1 606.6 L763.6 607.6 L761.0 602.7 M771.8 600.4 L781.7 607.6 M776.3 606.6 L781.7 607.6 L779.2 602.7 M790.0 600.4 L800.2 607.8 M794.6 606.8 L800.2 607.8 L797.6 602.8 M26.4 618.6 L49.5 622.7 M39.3 625.6 L49.5 622.7 L40.9 616.5 M44.6 618.6 L67.6 622.8 M57.4 625.7 L67.6 622.8 L59.1 616.6 M62.7 618.6 L85.1 625.5 M74.7 627.1 L85.1 625.5 L77.4 618.3 M80.9 618.6 L103.5 625.9 M92.9 627.4 L103.5 625.9 L95.8 618.5 M99.1 618.6 L121.5 625.4 M111.1 627.1 L121.5 625.4 L113.8 618.3 M117.3 618.6 L139.4 625.4 M129.1 627.0 L139.4 625.4 L131.8 618.3 M135.5 618.6 L155.6 626.7 M145.9 627.4 L155.6 626.7 L149.1 619.5 M153.7 618.6 L172.7 628.3 M163.1 628.1 L172.7 628.3 L166.9 620.6 M171.8 618.6 L189.1 629.8 M179.9 628.6 L189.1 629.8 L184.3 621.8 M190.0 618.6 L205.8 630.9 M197.0 629.0 L205.8 630.9 L201.8 622.8 M208.2 618.6 L222.6 630.6 M214.4 628.6 L222.6 630.6 L219.1 622.9 M226.4 618.6 L240.2 630.1 M232.3 628.2 L240.2 630.1 L236.9 622.7 M244.6 618.6 L257.4 630.1 M249.9 628.0 L257.4 630.1 L254.5 622.9 M262.7 618.6 L275.5 628.9 M268.3 627.3 L275.5 628.9 L272.4 622.2 M280.9 618.6 L293.6 627.8 M286.7 626.6 L293.6 627.8 L290.3 621.6 M299.1 618.6 L311.6 627.4 M304.8 626.3 L311.6 627.4 L308.3 621.3 M317.3 618.6 L331.7 626.6 M324.3 626.2 L331.7 626.6 L327.4 620.5 M335.5 618.6 L350.5 625.3 M343.1 625.6 L350.5 625.3 L345.7 619.7 M353.7 618.6 L366.9 625.4 M360.2 625.3 L366.9 625.4 L362.9 620.0 M371.8 618.6 L382.0 623.9 M376.9 623.7 L382.0 623.9 L378.9 619.7 M390.0 618.6 L396.8 622.1 M393.4 622.0 L396.8 622.1 L394.8 619.4 M408.2 618.6 L413.4 623.1 M410.4 622.3 L413.4 623.1 L412.2 620.2 M426.4 618.6 L432.2 623.6 M428.9 622.7 L432.2 623.6 L430.8 620.4 M444.6 618.6 L451.0 624.1 M447.3 623.1 L451.0 624.1 L449.5 620.6 M462.7 618.6 L469.6 622.8 M466.0 622.4 L469.6 622.8 L467.7 619.7 M480.9 618.6 L486.5 622.6 M483.5 622.1 L486.5 622.6 L485.1 619.9 M499.1 618.6 L503.8 621.9 M501.2 621.5 L503.8 621.9 L502.6 619.6 M517.3 618.6 L521.6 621.1 M519.4 620.9 L521.6 621.1 L520.3 619.2 M535.5 618.6 L540.2 620.1 M538.0 620.4 L540.2 620.1 L538.6 618.6 M553.7 618.6 L559.7 619.5 M557.1 620.3 L559.7 619.5 L557.4 617.9 M571.8 618.6 L578.7 618.6 M575.9 620.0 L578.7 618.6 L575.9 617.2 M590.0 618.6 L597.6 619.4 M594.4 620.6 L597.6 619.4 L594.7 617.6 M608.2 618.6 L615.9 621.0 M612.3 621.6 L615.9 621.0 L613.2 618.5 M626.4 618.6 L634.0 622.2 M630.2 622.2 L634.0 622.2 L631.6 619.2 M644.6 618.6 L652.0 623.3 M648.1 622.8 L652.0 623.3 L649.9 619.9 M662.7 618.6 L670.7 624.0 M666.4 623.4 L670.7 624.0 L668.5 620.2 M680.9 618.6 L689.1 624.3 M684.7 623.6 L689.1 624.3 L686.9 620.4 M699.1 618.6 L707.6 624.5 M703.0 623.8 L707.6 624.5 L705.3 620.4 M717.3 618.6 L726.1 624.7 M721.3 624.0 L726.1 624.7 L723.7 620.5 M735.5 618.6 L744.9 625.2 M739.8 624.4 L744.9 625.2 L742.4 620.7 M753.7 618.6 L763.4 625.4 M758.1 624.6 L763.4 625.4 L760.8 620.7 M771.8 618.6 L781.9 625.6 M776.4 624.7 L781.9 625.6 L779.2 620.8 M790.0 618.6 L800.0 625.6 M794.6 624.7 L800.0 625.6 L797.4 620.8 M8.2 636.8 L32.3 640.6 M21.8 643.8 L32.3 640.6 L23.3 634.3 M26.4 636.8 L51.1 641.1 M40.3 644.2 L51.1 641.1 L42.0 634.5 M44.6 636.8 L69.6 641.3 M58.6 644.4 L69.6 641.3 L60.4 634.5 M62.7 636.8 L87.4 644.4 M75.9 646.2 L87.4 644.4 L78.9 636.5 M80.9 636.8 L105.8 644.8 M94.1 646.5 L105.8 644.8 L97.3 636.7 M99.1 636.8 L124.0 645.8 M112.2 647.1 L124.0 645.8 L115.7 637.2 M117.3 636.8 L141.7 645.2 M130.2 646.6 L141.7 645.2 L133.5 637.0 M135.5 636.8 L157.2 645.5 M146.7 646.3 L157.2 645.5 L150.1 637.7 M153.7 636.8 L174.0 647.6 M163.7 647.2 L174.0 647.6 L167.9 639.2 M171.8 636.8 L189.4 649.0 M179.9 647.5 L189.4 649.0 L184.7 640.6 M190.0 636.8 L205.5 649.7 M196.7 647.5 L205.5 649.7 L201.8 641.4 M208.2 636.8 L222.1 649.3 M214.0 647.0 L222.1 649.3 L219.0 641.5 M226.4 636.8 L238.0 648.4 M231.0 646.0 L238.0 648.4 L235.6 641.4 M244.6 636.8 L254.6 647.8 M248.3 645.3 L254.6 647.8 L252.7 641.4 M262.7 636.8 L272.8 646.8 M266.7 644.7 L272.8 646.8 L270.7 640.7 M280.9 636.8 L289.7 646.8 M284.2 644.5 L289.7 646.8 L288.2 641.0 M299.1 636.8 L307.8 645.4 M302.6 643.6 L307.8 645.4 L306.0 640.2 M317.3 636.8 L327.0 644.9 M321.5 643.5 L327.0 644.9 L324.7 639.7 M335.5 636.8 L344.8 643.5 M339.7 642.6 L344.8 643.5 L342.3 638.9 M353.7 636.8 L360.8 642.5 M356.8 641.6 L360.8 642.5 L359.0 638.8 M371.8 636.8 L376.7 640.4 M374.0 639.9 L376.7 640.4 L375.5 638.0 M390.0 636.8 L393.8 640.5 M391.5 639.8 L393.8 640.5 L393.0 638.3 M408.2 636.8 L410.9 639.5 M409.0 638.8 L410.9 639.5 L410.3 637.6 M426.4 636.8 L430.0 639.5 M428.0 639.1 L430.0 639.5 L429.1 637.7 M444.6 636.8 L449.6 640.2 M446.9 639.8 L449.6 640.2 L448.3 637.8 M462.7 636.8 L468.2 639.6 M465.4 639.5 L468.2 639.6 L466.5 637.3 M480.9 636.8 L486.6 639.1 M483.8 639.3 L486.6 639.1 L484.8 637.0 M499.1 636.8 L503.7 640.2 M501.2 639.7 L503.7 640.2 L502.5 637.9 M517.3 636.8 L521.7 639.8 M519.3 639.4 L521.7 639.8 L520.5 637.7 M535.5 636.8 L539.0 641.3 M536.7 640.2 L539.0 641.3 L538.5 638.8 M553.7 636.8 L558.3 641.3 M555.5 640.4 L558.3 641.3 L557.3 638.6 M571.8 636.8 L578.4 639.4 M575.2 639.6 L578.4 639.4 L576.2 637.0 M590.0 636.8 L597.3 639.1 M593.9 639.6 L597.3 639.1 L594.8 636.7 M608.2 636.8 L615.4 640.4 M611.8 640.3 L615.4 640.4 L613.2 637.5 M626.4 636.8 L633.7 641.0 M629.9 640.7 L633.7 641.0 L631.6 637.8 M644.6 636.8 L651.9 641.6 M648.0 641.1 L651.9 641.6 L649.9 638.2 M662.7 636.8 L670.6 642.2 M666.3 641.6 L670.6 642.2 L668.5 638.5 M680.9 636.8 L688.8 642.2 M684.5 641.6 L688.8 642.2 L686.7 638.5 M699.1 636.8 L706.9 642.2 M702.7 641.6 L706.9 642.2 L704.9 638.5 M717.3 636.8 L725.4 642.5 M721.0 641.8 L725.4 642.5 L723.3 638.6 M735.5 636.8 L744.2 642.9 M739.5 642.2 L744.2 642.9 L741.9 638.7 M753.7 636.8 L763.1 643.3 M758.0 642.5 L763.1 643.3 L760.6 638.8 M771.8 636.8 L781.5 643.6 M776.3 642.7 L781.5 643.6 L779.0 638.9 M790.0 636.8 L800.3 643.4 M794.8 642.8 L800.3 643.4 L797.4 638.7 M8.2 654.9 L32.5 660.1 M21.6 662.8 L32.5 660.1 L23.7 653.2 M26.4 654.9 L51.3 660.2 M40.2 663.0 L51.3 660.2 L42.3 653.2 M44.6 654.9 L69.9 659.8 M58.7 662.8 L69.9 659.8 L60.6 652.8 M62.7 654.9 L88.0 663.1 M76.2 664.7 L88.0 663.1 L79.4 654.8 M80.9 654.9 L106.4 663.2 M94.5 664.9 L106.4 663.2 L97.8 654.8 M99.1 654.9 L124.3 664.1 M112.3 665.4 L124.3 664.1 L115.9 655.4 M117.3 654.9 L142.5 664.1 M130.5 665.4 L142.5 664.1 L134.1 655.4 M135.5 654.9 L159.4 663.7 M148.0 664.9 L159.4 663.7 L151.4 655.4 M153.7 654.9 L173.4 666.3 M163.1 665.6 L173.4 666.3 L167.6 657.8 M171.8 654.9 L189.1 667.0 M179.7 665.5 L189.1 667.0 L184.5 658.7 M190.0 654.9 L205.3 667.8 M196.6 665.6 L205.3 667.8 L201.7 659.6 M208.2 654.9 L219.5 668.9 M212.2 665.5 L219.5 668.9 L217.7 661.0 M226.4 654.9 L235.1 668.4 M228.9 664.7 L235.1 668.4 L234.3 661.2 M244.6 654.9 L251.6 667.6 M246.3 663.9 L251.6 667.6 L251.3 661.1 M262.7 654.9 L268.7 666.5 M264.0 663.0 L268.7 666.5 L268.6 660.7 M280.9 654.9 L286.5 665.8 M282.1 662.5 L286.5 665.8 L286.4 660.3 M299.1 654.9 L304.8 664.0 M300.7 661.5 L304.8 664.0 L304.3 659.2 M317.3 654.9 L322.3 663.5 M318.6 661.0 L322.3 663.5 L322.0 659.1 M335.5 654.9 L341.4 662.0 M337.6 660.3 L341.4 662.0 L340.4 658.0 M353.7 654.9 L357.6 661.5 M354.7 659.6 L357.6 661.5 L357.3 658.1 M371.8 654.9 L375.6 658.7 M373.3 657.9 L375.6 658.7 L374.8 656.5 M390.0 654.9 L392.2 658.1 M390.4 657.1 L392.2 658.1 L391.9 656.1 M408.2 654.9 L409.6 657.7 M408.0 656.5 L409.6 657.7 L409.6 655.7 M426.4 654.9 L428.5 657.1 M426.7 656.5 L428.5 657.1 L427.9 655.2 M444.6 654.9 L448.3 656.9 M446.3 656.8 L448.3 656.9 L447.1 655.3 M462.7 654.9 L466.3 658.4 M464.2 657.7 L466.3 658.4 L465.5 656.3 M480.9 654.9 L486.1 656.2 M483.8 656.7 L486.1 656.2 L484.3 654.7 M499.1 654.9 L504.2 657.5 M501.6 657.5 L504.2 657.5 L502.7 655.5 M517.3 654.9 L522.1 658.1 M519.5 657.8 L522.1 658.1 L520.8 655.9 M535.5 654.9 L540.2 658.8 M537.5 658.2 L540.2 658.8 L539.1 656.3 M553.7 654.9 L557.9 660.1 M555.1 658.8 L557.9 660.1 L557.2 657.2 M571.8 654.9 L577.7 658.9 M574.5 658.4 L577.7 658.9 L576.1 656.1 M590.0 654.9 L596.8 658.4 M593.4 658.3 L596.8 658.4 L594.8 655.7 M608.2 654.9 L615.2 658.9 M611.6 658.7 L615.2 658.9 L613.1 656.0 M626.4 654.9 L633.7 659.1 M629.9 658.9 L633.7 659.1 L631.6 656.0 M644.6 654.9 L652.2 659.3 M648.2 659.1 L652.2 659.3 L650.0 656.1 M662.7 654.9 L670.5 659.8 M666.4 659.4 L670.5 659.8 L668.3 656.3 M680.9 654.9 L688.7 659.8 M684.6 659.4 L688.7 659.8 L686.5 656.3 M699.1 654.9 L706.9 659.8 M702.8 659.4 L706.9 659.8 L704.7 656.3 M717.3 654.9 L725.1 659.8 M721.0 659.4 L725.1 659.8 L722.9 656.3 M735.5 654.9 L744.1 659.9 M739.6 659.6 L744.1 659.9 L741.6 656.2 M753.7 654.9 L763.1 660.0 M758.3 659.8 L763.1 660.0 L760.3 656.1 M771.8 654.9 L782.2 659.8 M777.1 659.9 L782.2 659.8 L779.0 655.8 M790.0 654.9 L800.9 659.6 M795.6 659.9 L800.9 659.6 L797.4 655.5 M8.2 673.1 L31.8 676.0 M21.7 679.5 L31.8 676.0 L22.8 670.2 M26.4 673.1 L50.3 676.5 M39.9 679.8 L50.3 676.5 L41.3 670.4 M44.6 673.1 L68.4 676.9 M58.0 680.1 L68.4 676.9 L59.5 670.7 M62.7 673.1 L84.9 681.7 M74.2 682.6 L84.9 681.7 L77.6 673.9 M80.9 673.1 L103.3 681.3 M92.6 682.4 L103.3 681.3 L95.8 673.6 M99.1 673.1 L121.4 681.3 M110.8 682.4 L121.4 681.3 L114.0 673.6 M117.3 673.1 L137.6 682.6 M127.5 682.8 L137.6 682.6 L131.3 674.8 M135.5 673.1 L153.6 683.2 M144.3 682.7 L153.6 683.2 L148.2 675.5 M153.7 673.1 L166.1 683.9 M158.9 682.0 L166.1 683.9 L163.2 677.1 M171.8 673.1 L180.8 684.6 M174.9 681.7 L180.8 684.6 L179.4 678.2 M190.0 673.1 L196.5 684.8 M191.6 681.4 L196.5 684.8 L196.2 678.8 M208.2 673.1 L213.3 684.6 M209.0 681.0 L213.3 684.6 L213.5 679.0 M226.4 673.1 L229.4 685.0 M225.8 680.8 L229.4 685.0 L230.5 679.6 M244.6 673.1 L245.8 684.5 M243.0 680.1 L245.8 684.5 L247.5 679.7 M262.7 673.1 L263.8 683.4 M261.4 679.4 L263.8 683.4 L265.4 679.0 M280.9 673.1 L280.9 682.3 M279.1 678.6 L280.9 682.3 L282.7 678.6 M299.1 673.1 L299.5 680.8 M297.8 677.7 L299.5 680.8 L300.9 677.6 M317.3 673.1 L317.3 679.6 M316.0 677.0 L317.3 679.6 L318.6 677.0 M335.5 673.1 L335.5 678.8 M334.3 676.5 L335.5 678.8 L336.6 676.5 M353.7 673.1 L353.7 677.7 M352.8 675.8 L353.7 677.7 L354.6 675.8 M371.8 673.1 L371.8 676.9 M371.0 675.1 L371.8 676.9 L372.7 675.1 M390.0 673.1 L390.0 675.8 M389.1 674.0 L390.0 675.8 L390.9 674.0 M408.2 673.1 L407.5 675.3 M407.2 673.3 L407.5 675.3 L408.9 673.9 M425.7 673.1 h1.5 M443.9 673.1 h1.5 M462.7 673.1 L464.0 675.5 M462.4 674.3 L464.0 675.5 L463.9 673.5 M480.9 673.1 L483.6 675.3 M481.7 674.8 L483.6 675.3 L482.8 673.5 M499.1 673.1 L502.6 675.5 M500.6 675.2 L502.6 675.5 L501.6 673.7 M517.3 673.1 L522.4 674.8 M520.0 675.1 L522.4 674.8 L520.7 673.1 M535.5 673.1 L540.7 676.3 M538.0 676.0 L540.7 676.3 L539.2 674.0 M553.7 673.1 L558.8 677.3 M555.9 676.6 L558.8 677.3 L557.6 674.6 M571.8 673.1 L577.3 677.5 M574.2 676.8 L577.3 677.5 L576.0 674.7 M590.0 673.1 L597.1 676.0 M593.7 676.2 L597.1 676.0 L594.8 673.4 M608.2 673.1 L615.5 677.3 M611.7 677.1 L615.5 677.3 L613.4 674.2 M626.4 673.1 L634.0 677.5 M630.1 677.2 L634.0 677.5 L631.8 674.2 M644.6 673.1 L652.5 677.7 M648.4 677.4 L652.5 677.7 L650.2 674.3 M662.7 673.1 L671.0 677.9 M666.7 677.6 L671.0 677.9 L668.6 674.3 M680.9 673.1 L689.4 677.6 M685.1 677.5 L689.4 677.6 L686.8 674.1 M699.1 673.1 L707.3 677.3 M703.2 677.2 L707.3 677.3 L704.8 674.0 M717.3 673.1 L724.3 679.0 M720.3 678.0 L724.3 679.0 L722.6 675.2 M735.5 673.1 L744.9 676.2 M740.5 676.8 L744.9 676.2 L741.7 673.1 M753.7 673.1 L763.5 677.3 M758.7 677.5 L763.5 677.3 L760.4 673.7 M771.8 673.1 L782.6 677.0 M777.5 677.6 L782.6 677.0 L779.0 673.3 M790.0 673.1 L801.4 676.4 M796.2 677.3 L801.4 676.4 L797.5 672.8 M8.2 691.3 L23.4 693.1 M16.9 695.3 L23.4 693.1 L17.6 689.3 M26.4 691.3 L41.4 694.0 M34.8 695.8 L41.4 694.0 L35.9 689.9 M44.6 691.3 L58.6 695.2 M52.1 696.4 L58.6 695.2 L53.7 690.9 M62.7 691.3 L74.2 697.4 M68.4 697.2 L74.2 697.4 L70.8 692.7 M80.9 691.3 L91.0 698.3 M85.5 697.4 L91.0 698.3 L88.3 693.5 M99.1 691.3 L108.8 697.4 M103.7 696.8 L108.8 697.4 L106.1 693.0 M117.3 691.3 L124.7 700.1 M120.0 698.0 L124.7 700.1 L123.4 695.1 M135.5 691.3 L140.0 701.8 M136.1 698.5 L140.0 701.8 L140.2 696.7 M153.7 691.3 L155.1 702.7 M152.3 698.3 L155.1 702.7 L156.7 697.8 M171.8 691.3 L170.5 703.8 M168.6 698.5 L170.5 703.8 L173.5 699.0 M190.0 691.3 L185.8 704.4 M184.9 698.3 L185.8 704.4 L190.1 699.9 M208.2 691.3 L199.9 702.8 M201.0 696.5 L199.9 702.8 L205.5 699.8 M226.4 691.3 L220.3 703.2 M220.4 697.2 L220.3 703.2 L225.1 699.6 M244.6 691.3 L234.1 698.4 M236.9 693.4 L234.1 698.4 L239.7 697.6 M262.7 691.3 L253.7 698.9 M255.8 694.0 L253.7 698.9 L258.9 697.6 M280.9 691.3 L272.2 698.7 M274.2 694.0 L272.2 698.7 L277.2 697.4 M299.1 691.3 L291.2 697.9 M293.1 693.7 L291.2 697.9 L295.7 696.8 M317.3 691.3 L310.0 697.4 M311.7 693.5 L310.0 697.4 L314.2 696.4 M335.5 691.3 L328.7 697.0 M330.3 693.3 L328.7 697.0 L332.6 696.0 M353.7 691.3 L348.3 696.7 M349.4 693.4 L348.3 696.7 L351.5 695.6 M371.8 691.3 L367.7 694.7 M368.7 692.5 L367.7 694.7 L370.0 694.1 M390.0 691.3 L385.7 694.5 M386.8 692.4 L385.7 694.5 L388.1 694.1 M408.2 691.3 L405.2 693.6 M406.1 691.8 L405.2 693.6 L407.1 693.2 M426.4 691.3 L424.8 692.9 M425.4 691.0 L424.8 692.9 L426.7 692.3 M444.6 691.3 L443.4 693.3 M443.6 691.3 L443.4 693.3 L445.1 692.2 M462.0 691.3 h1.5 M480.2 691.3 h1.5 M499.1 691.3 L501.2 693.0 M499.2 692.5 L501.2 693.0 L500.3 691.2 M517.3 691.3 L521.4 693.4 M519.3 693.3 L521.4 693.4 L520.1 691.7 M535.5 691.3 L541.0 692.7 M538.5 693.2 L541.0 692.7 L539.1 691.0 M553.7 691.3 L559.8 693.8 M556.8 694.0 L559.8 693.8 L557.8 691.6 M571.8 691.3 L578.4 693.9 M575.2 694.1 L578.4 693.9 L576.2 691.6 M590.0 691.3 L597.1 694.1 M593.7 694.4 L597.1 694.1 L594.8 691.6 M608.2 691.3 L616.0 695.3 M612.1 695.2 L616.0 695.3 L613.7 692.1 M626.4 691.3 L635.2 695.0 M630.9 695.3 L635.2 695.0 L632.4 691.8 M644.6 691.3 L653.2 696.3 M648.7 695.9 L653.2 696.3 L650.7 692.5 M662.7 691.3 L672.0 696.6 M667.2 696.3 L672.0 696.6 L669.3 692.6 M680.9 691.3 L689.8 698.0 M684.9 697.0 L689.8 698.0 L687.5 693.5 M699.1 691.3 L707.2 698.3 M702.5 697.1 L707.2 698.3 L705.3 693.9 M717.3 691.3 L724.6 698.6 M720.2 697.1 L724.6 698.6 L723.1 694.2 M735.5 691.3 L743.4 697.9 M738.9 696.8 L743.4 697.9 L741.5 693.7 M753.7 691.3 L761.9 698.2 M757.2 697.0 L761.9 698.2 L759.9 693.8 M771.8 691.3 L781.3 697.7 M776.2 697.0 L781.3 697.7 L778.8 693.2 M790.0 691.3 L800.2 697.4 M794.9 696.9 L800.2 697.4 L797.3 692.9 M8.2 709.5 L11.1 711.9 M9.2 711.4 L11.1 711.9 L10.3 710.1 M26.4 709.5 L28.5 711.6 M26.7 711.0 L28.5 711.6 L27.9 709.7 M44.6 709.5 L46.6 711.7 M44.8 711.0 L46.6 711.7 L46.1 709.8 M62.7 709.5 L65.2 712.4 M63.4 711.6 L65.2 712.4 L64.7 710.5 M80.9 709.5 L83.8 713.0 M82.0 712.2 L83.8 713.0 L83.4 711.0 M99.1 709.5 L101.7 713.3 M99.9 712.2 L101.7 713.3 L101.4 711.2 M117.3 709.5 L119.7 714.2 M117.8 712.8 L119.7 714.2 L119.7 711.8 M135.5 709.5 L137.6 716.0 M135.4 713.8 L137.6 716.0 L138.0 712.9 M153.7 709.5 L152.3 719.3 M150.9 715.1 L152.3 719.3 L154.8 715.6 M171.8 709.5 L169.0 722.9 M167.5 716.9 L169.0 722.9 L172.8 718.0 M190.0 709.5 L184.5 724.6 M183.8 717.4 L184.5 724.6 L189.7 719.5 M208.2 709.5 L199.7 723.6 M200.4 716.2 L199.7 723.6 L205.9 719.5 M226.4 709.5 L218.1 723.2 M218.7 716.0 L218.1 723.2 L224.2 719.3 M244.6 709.5 L233.7 720.3 M236.0 713.8 L233.7 720.3 L240.3 718.0 M262.7 709.5 L251.5 719.3 M254.1 713.1 L251.5 719.3 L258.0 717.5 M280.9 709.5 L269.5 718.4 M272.3 712.5 L269.5 718.4 L275.9 717.1 M299.1 709.5 L287.4 717.4 M290.6 711.9 L287.4 717.4 L293.7 716.5 M317.3 709.5 L306.2 717.0 M309.2 711.7 L306.2 717.0 L312.2 716.1 M335.5 709.5 L324.4 715.6 M327.7 710.9 L324.4 715.6 L330.1 715.3 M353.7 709.5 L343.8 714.5 M346.8 710.5 L343.8 714.5 L348.8 714.4 M371.8 709.5 L364.6 713.7 M366.7 710.5 L364.6 713.7 L368.3 713.4 M390.0 709.5 L383.7 713.7 M385.4 710.8 L383.7 713.7 L387.1 713.3 M408.2 709.5 L403.4 713.3 M404.6 710.8 L403.4 713.3 L406.1 712.7 M426.4 709.5 L423.8 712.8 M424.2 710.9 L423.8 712.8 L425.6 711.9 M444.6 709.5 L443.0 712.1 M443.2 710.1 L443.0 712.1 L444.7 711.0 M462.0 709.5 h1.5 M480.2 709.5 h1.5 M499.1 709.5 L500.7 711.1 M498.8 710.4 L500.7 711.1 L500.1 709.2 M517.3 709.5 L521.0 711.4 M519.0 711.3 L521.0 711.4 L519.8 709.8 M535.5 709.5 L541.1 710.6 M538.6 711.2 L541.1 710.6 L539.0 709.0 M553.7 709.5 L560.0 710.7 M557.2 711.5 L560.0 710.7 L557.7 708.9 M571.8 709.5 L578.6 710.5 M575.7 711.4 L578.6 710.5 L576.1 708.8 M590.0 709.5 L597.5 710.9 M594.2 711.8 L597.5 710.9 L594.8 708.9 M608.2 709.5 L616.4 712.7 M612.4 713.0 L616.4 712.7 L613.7 709.8 M626.4 709.5 L635.9 712.2 M631.5 713.0 L635.9 712.2 L632.6 709.2 M644.6 709.5 L654.4 713.6 M649.6 713.9 L654.4 713.6 L651.3 710.0 M662.7 709.5 L672.8 715.7 M667.5 715.2 L672.8 715.7 L670.0 711.2 M680.9 709.5 L690.7 716.8 M685.3 715.8 L690.7 716.8 L688.2 711.9 M699.1 709.5 L708.1 717.2 M702.9 715.9 L708.1 717.2 L706.0 712.3 M717.3 709.5 L724.8 718.1 M720.1 716.1 L724.8 718.1 L723.5 713.1 M735.5 709.5 L742.0 718.4 M737.6 716.1 L742.0 718.4 L741.1 713.5 M753.7 709.5 L760.8 718.0 M756.2 715.9 L760.8 718.0 L759.6 713.1 M771.8 709.5 L779.2 718.2 M774.5 716.1 L779.2 718.2 L778.0 713.2 M790.0 709.5 L798.4 717.8 M793.4 716.1 L798.4 717.8 L796.7 712.8 M7.5 727.6 h1.5 M25.7 727.6 h1.5 M43.9 727.6 h1.5 M62.0 727.6 h1.5 M80.9 727.6 L80.4 729.9 M80.0 727.9 L80.4 729.9 L81.7 728.3 M98.4 727.6 h1.5 M116.6 727.6 h1.5 M134.8 727.6 h1.5 M153.7 727.6 L153.3 729.9 M152.7 728.0 L153.3 729.9 L154.4 728.3 M171.8 727.6 L171.8 732.2 M170.9 730.4 L171.8 732.2 L172.7 730.4 M190.0 727.6 L187.8 736.5 M186.9 732.5 L187.8 736.5 L190.4 733.4 M208.2 727.6 L201.3 739.6 M201.8 733.4 L201.3 739.6 L206.5 736.1 M226.4 727.6 L220.2 742.9 M219.7 735.5 L220.2 742.9 L225.7 737.9 M244.6 727.6 L235.0 742.9 M235.9 734.8 L235.0 742.9 L241.9 738.6 M262.7 727.6 L251.7 741.3 M253.5 733.6 L251.7 741.3 L258.8 738.0 M280.9 727.6 L269.4 740.4 M271.5 733.0 L269.4 740.4 L276.6 737.5 M299.1 727.6 L287.5 739.3 M289.9 732.3 L287.5 739.3 L294.5 736.9 M317.3 727.6 L305.6 738.1 M308.3 731.6 L305.6 738.1 L312.4 736.2 M335.5 727.6 L323.7 736.8 M326.7 730.8 L323.7 736.8 L330.3 735.4 M353.7 727.6 L343.3 736.7 M345.7 731.0 L343.3 736.7 L349.2 735.1 M371.8 727.6 L363.2 735.2 M365.2 730.4 L363.2 735.2 L368.2 733.8 M390.0 727.6 L383.0 734.7 M384.4 730.4 L383.0 734.7 L387.2 733.2 M408.2 727.6 L402.0 733.9 M403.3 730.1 L402.0 733.9 L405.7 732.6 M426.4 727.6 L421.5 732.5 M422.5 729.6 L421.5 732.5 L424.4 731.5 M444.6 727.6 L441.3 731.9 M441.8 729.5 L441.3 731.9 L443.5 730.8 M462.7 727.6 L461.0 731.0 M461.0 729.0 L461.0 731.0 L462.6 729.8 M480.9 727.6 L480.9 730.3 M480.1 728.5 L480.9 730.3 L481.8 728.5 M499.1 727.6 L501.0 729.5 M499.1 728.9 L501.0 729.5 L500.4 727.6 M517.3 727.6 L520.9 728.8 M518.9 729.1 L520.9 728.8 L519.5 727.4 M535.5 727.6 L540.1 729.5 M537.9 729.7 L540.1 729.5 L538.6 727.8 M553.7 727.6 L559.7 728.6 M557.1 729.4 L559.7 728.6 L557.4 727.0 M571.8 727.6 L578.3 727.6 M575.7 728.9 L578.3 727.6 L575.7 726.4 M590.0 727.6 L597.3 727.6 M594.3 729.1 L597.3 727.6 L594.3 726.2 M608.2 727.6 L616.2 727.6 M613.0 729.2 L616.2 727.6 L613.0 726.1 M626.4 727.6 L635.6 727.6 M631.8 729.4 L635.6 727.6 L631.8 725.8 M644.6 727.6 L655.2 729.1 M650.6 730.6 L655.2 729.1 L651.2 726.4 M662.7 727.6 L674.2 732.0 M668.7 732.5 L674.2 732.0 L670.4 728.0 M680.9 727.6 L692.0 733.7 M686.3 733.5 L692.0 733.7 L688.7 729.1 M699.1 727.6 L708.6 735.9 M703.2 734.4 L708.6 735.9 L706.4 730.7 M717.3 727.6 L725.3 736.9 M720.3 734.7 L725.3 736.9 L723.9 731.5 M735.5 727.6 L742.4 736.8 M737.8 734.5 L742.4 736.8 L741.4 731.7 M753.7 727.6 L761.2 736.3 M756.4 734.3 L761.2 736.3 L759.8 731.3 M771.8 727.6 L779.9 735.8 M775.1 734.1 L779.9 735.8 L778.3 730.9 M790.0 727.6 L799.2 735.1 M794.0 733.9 L799.2 735.1 L797.0 730.3 M8.2 745.8 L7.2 748.7 M6.9 746.7 L7.2 748.7 L8.6 747.3 M26.4 745.8 L24.3 749.9 M24.3 747.8 L24.3 749.9 L26.0 748.7 M44.6 745.8 L42.5 750.7 M42.3 748.3 L42.5 750.7 L44.3 749.2 M62.7 745.8 L59.7 751.1 M59.9 748.3 L59.7 751.1 L61.9 749.6 M80.9 745.8 L76.6 750.2 M77.5 747.6 L76.6 750.2 L79.2 749.3 M99.1 745.8 L94.7 748.8 M95.9 746.7 L94.7 748.8 L97.1 748.5 M117.3 745.8 L113.2 747.9 M114.4 746.3 L113.2 747.9 L115.3 747.9 M135.5 745.8 L131.9 747.1 M133.3 745.7 L131.9 747.1 L133.9 747.3 M153.7 745.8 L151.4 746.1 M153.0 745.0 L151.4 746.1 L153.3 746.8 M171.1 745.8 h1.5 M189.3 745.8 h1.5 M208.2 745.8 L206.7 748.5 M206.8 746.5 L206.7 748.5 L208.3 747.3 M226.4 745.8 L223.5 752.0 M223.4 749.0 L223.5 752.0 L225.9 750.1 M244.6 745.8 L239.4 754.3 M239.8 749.9 L239.4 754.3 L243.2 751.9 M262.7 745.8 L254.9 756.6 M255.9 750.7 L254.9 756.6 L260.2 753.8 M280.9 745.8 L273.0 758.9 M273.6 752.1 L273.0 758.9 L278.8 755.2 M299.1 745.8 L290.8 759.6 M291.5 752.4 L290.8 759.6 L296.9 755.6 M317.3 745.8 L307.9 759.3 M309.0 752.0 L307.9 759.3 L314.3 755.7 M335.5 745.8 L325.1 758.6 M326.8 751.4 L325.1 758.6 L331.8 755.5 M353.7 745.8 L344.0 758.2 M345.5 751.3 L344.0 758.2 L350.3 755.1 M371.8 745.8 L362.3 756.8 M364.0 750.5 L362.3 756.8 L368.3 754.2 M390.0 745.8 L380.8 755.0 M382.7 749.5 L380.8 755.0 L386.4 753.1 M408.2 745.8 L400.2 755.0 M401.6 749.7 L400.2 755.0 L405.2 752.9 M426.4 745.8 L420.4 754.7 M421.1 749.9 L420.4 754.7 L424.6 752.3 M444.6 745.8 L439.4 753.4 M440.0 749.3 L439.4 753.4 L443.0 751.4 M462.7 745.8 L458.8 752.4 M459.1 748.9 L458.8 752.4 L461.7 750.5 M480.9 745.8 L478.2 751.3 M478.2 748.5 L478.2 751.3 L480.4 749.6 M499.1 745.8 L497.7 750.2 M497.4 748.1 L497.7 750.2 L499.1 748.7 M517.3 745.8 L518.8 748.5 M517.2 747.3 L518.8 748.5 L518.7 746.5 M534.8 745.8 h1.5 M553.7 745.8 L555.7 744.8 M554.5 746.4 L555.7 744.8 L553.7 744.8 M571.8 745.8 L574.4 744.1 M573.4 745.8 L574.4 744.1 L572.4 744.4 M590.0 745.8 L594.4 744.4 M592.9 745.8 L594.4 744.4 L592.3 744.1 M608.2 745.8 L612.5 742.6 M611.4 744.7 L612.5 742.6 L610.1 743.1 M626.4 745.8 L631.6 742.7 M630.1 745.0 L631.6 742.7 L628.9 742.9 M644.6 745.8 L650.8 742.1 M649.0 744.8 L650.8 742.1 L647.5 742.4 M662.7 745.8 L671.4 744.3 M668.2 746.6 L671.4 744.3 L667.6 743.2 M680.9 745.8 L691.3 745.8 M687.1 747.8 L691.3 745.8 L687.1 743.8 M699.1 745.8 L709.8 748.9 M704.9 749.7 L709.8 748.9 L706.1 745.5 M717.3 745.8 L726.4 753.4 M721.2 752.1 L726.4 753.4 L724.2 748.5 M735.5 745.8 L744.2 754.4 M738.9 752.7 L744.2 754.4 L742.3 749.2 M753.7 745.8 L761.9 755.3 M756.7 753.1 L761.9 755.3 L760.5 749.8 M771.8 745.8 L780.2 755.8 M774.9 753.4 L780.2 755.8 L778.8 750.1 M790.0 745.8 L800.0 754.2 M794.3 752.8 L800.0 754.2 L797.6 748.8 M8.2 764.0 L6.4 769.0 M6.1 766.6 L6.4 769.0 L8.1 767.3 M26.4 764.0 L23.2 770.9 M23.1 767.5 L23.2 770.9 L25.8 768.8 M44.6 764.0 L40.7 772.3 M40.6 768.2 L40.7 772.3 L43.9 769.7 M62.7 764.0 L57.3 772.3 M57.9 767.9 L57.3 772.3 L61.2 770.0 M80.9 764.0 L74.7 771.7 M75.7 767.4 L74.7 771.7 L78.7 769.8 M99.1 764.0 L94.0 772.5 M94.4 768.0 L94.0 772.5 L97.7 770.1 M117.3 764.0 L112.7 771.9 M113.0 767.8 L112.7 771.9 L116.1 769.6 M135.5 764.0 L130.8 771.0 M131.3 767.2 L130.8 771.0 L134.0 769.1 M153.7 764.0 L148.7 769.8 M149.6 766.5 L148.7 769.8 L151.9 768.4 M171.8 764.0 L167.0 768.8 M168.0 765.9 L167.0 768.8 L169.9 767.8 M190.0 764.0 L185.1 767.7 M186.4 765.2 L185.1 767.7 L187.8 767.1 M208.2 764.0 L204.4 766.6 M205.4 764.8 L204.4 766.6 L206.4 766.3 M226.4 764.0 L222.8 765.3 M224.2 763.9 L222.8 765.3 L224.8 765.5 M244.6 764.0 L241.6 764.7 M243.1 763.4 L241.6 764.7 L243.6 765.1 M262.7 764.0 L258.8 765.4 M260.2 764.0 L258.8 765.4 L260.8 765.6 M280.9 764.0 L275.9 767.4 M277.2 765.0 L275.9 767.4 L278.6 767.0 M299.1 764.0 L293.8 770.5 M294.7 766.8 L293.8 770.5 L297.2 768.9 M317.3 764.0 L311.0 772.7 M311.8 767.9 L311.0 772.7 L315.3 770.4 M335.5 764.0 L328.5 773.6 M329.4 768.3 L328.5 773.6 L333.2 771.1 M353.7 764.0 L345.9 773.9 M347.1 768.4 L345.9 773.9 L351.0 771.4 M371.8 764.0 L363.7 773.7 M365.1 768.1 L363.7 773.7 L368.9 771.3 M390.0 764.0 L381.8 773.1 M383.3 767.8 L381.8 773.1 L386.9 771.0 M408.2 764.0 L400.3 773.4 M401.7 768.0 L400.3 773.4 L405.4 771.1 M426.4 764.0 L420.0 773.5 M420.7 768.4 L420.0 773.5 L424.4 770.9 M444.6 764.0 L438.6 772.9 M439.2 768.1 L438.6 772.9 L442.7 770.5 M462.7 764.0 L456.5 771.7 M457.5 767.4 L456.5 771.7 L460.5 769.8 M480.9 764.0 L475.6 770.5 M476.5 766.8 L475.6 770.5 L479.1 768.9 M499.1 764.0 L493.8 768.3 M495.1 765.5 L493.8 768.3 L496.8 767.6 M517.3 764.0 L513.0 767.2 M514.1 765.1 L513.0 767.2 L515.4 766.8 M535.5 764.0 L531.1 765.4 M532.6 764.0 L531.1 765.4 L533.2 765.7 M553.7 764.0 L549.4 764.0 M551.2 763.1 L549.4 764.0 L551.2 764.9 M571.8 764.0 L568.6 761.3 M570.6 761.8 L568.6 761.3 L569.4 763.1 M590.0 764.0 L588.5 759.7 M589.9 761.1 L588.5 759.7 L588.2 761.7 M608.2 764.0 L606.9 760.0 M608.3 761.4 L606.9 760.0 L606.6 762.0 M626.4 764.0 L627.3 759.5 M627.8 761.5 L627.3 759.5 L626.0 761.1 M644.6 764.0 L646.6 759.0 M646.7 761.4 L646.6 759.0 L644.8 760.6 M662.7 764.0 L665.9 757.9 M665.8 761.0 L665.9 757.9 L663.4 759.7 M680.9 764.0 L687.0 759.4 M685.5 762.5 L687.0 759.4 L683.7 760.0 M699.1 764.0 L707.1 761.4 M704.4 764.0 L707.1 761.4 L703.4 760.9 M717.3 764.0 L726.4 762.6 M723.0 764.9 L726.4 762.6 L722.4 761.4 M735.5 764.0 L746.9 764.0 M742.3 766.3 L746.9 764.0 L742.3 761.7 M753.7 764.0 L765.7 768.9 M759.9 769.3 L765.7 768.9 L761.8 764.5 M771.8 764.0 L784.1 770.2 M777.9 770.1 L784.1 770.2 L780.4 765.3 M790.0 764.0 L800.0 774.0 M794.0 771.9 L800.0 774.0 L798.0 768.0" stroke="#fff" stroke-width="1" fill="none" shape-rendering="crispEdges"/>
<path d="M9.5 27 V772 M81.5 27 V772 M154.5 27 V772 M227.5 27 V772 M299.5 27 V772 M372.5 27 V772 M445.5 27 V772 M518.5 27 V772 M590.5 27 V772 M663.5 27 V772 M736.5 27 V772 M0 36.5 H800 M0 109.5 H800 M0 181.5 H800 M0 254.5 H800 M0 327.5 H800 M0 400.5 H800 M0 472.5 H800 M0 545.5 H800 M0 618.5 H800 M0 690.5 H800 M0 763.5 H800" stroke="#808080" stroke-width="1" fill="none" shape-rendering="crispEdges"/>
<polyline points="243.0,27.0 240.8,28.8 234.8,30.0 233.2,32.2 236.2,34.5 238.5,37.5 236.0,45.0 234.0,49.5 234.8,54.0 231.0,58.5 228.0,64.5 222.8,68.2 223.5,72.0 228.0,75.0 228.8,79.5 226.5,85.5 225.0,93.0 223.5,95.2 215.2,97.5 212.2,100.5 216.0,105.0 216.8,112.5 213.3,120.0 220.5,130.5 212.2,142.5" fill="none" stroke="#000" stroke-width="0.9"/>
<polyline points="212.0,142.5 212.5,155.0 214.5,167.5 217.0,175.0 215.5,180.0 216.0,185.0 212.5,188.8 203.8,189.5 197.5,188.0 195.5,190.0 197.5,196.0 196.0,203.8 191.0,208.8 188.8,216.0 187.5,230.0 190.0,238.8 194.5,245.0 195.0,252.5 198.8,256.0 200.0,263.8 198.8,270.0 192.5,273.8 186.0,274.5 191.0,277.5 195.0,280.0 192.5,287.5 200.0,295.8 205.0,299.5 211.0,302.0 217.5,304.5 225.0,309.5 230.0,313.0 237.5,315.8 246.0,319.5 253.8,323.0 260.0,328.0 267.5,332.0 275.0,337.0 282.5,344.5 287.5,352.0 290.0,359.5 287.5,365.8 280.0,372.0 275.0,378.0 272.5,387.0 273.8,397.0 277.5,404.5 282.5,412.0 290.0,419.5 300.0,424.5 307.5,425.8 312.5,423.0 318.8,422.0 320.0,427.0 322.5,437.0 324.5,449.5 324.5,464.5 317.5,474.5 310.0,483.0 303.8,493.0 297.5,502.0 290.0,510.8 280.0,518.0 270.0,525.8 263.8,534.5 261.0,544.5 261.0,552.0 255.0,557.0 245.0,562.0 232.5,568.0 222.5,572.0 210.0,578.0 200.0,581.5 185.0,585.8 175.0,589.5 165.0,592.0 150.0,595.8 135.0,598.0 120.0,600.8 110.0,602.0 97.5,605.5 80.5,607.5 32.5,613.0 18.8,614.8 10.0,615.5 0.0,617.5" fill="none" stroke="#000" stroke-width="0.9"/>
<polyline points="212.0,142.5 216.0,153.8 217.5,166.0 223.0,173.8 222.5,182.5 218.8,187.5 211.0,189.5 201.0,190.0 201.0,197.5 202.0,203.8 197.5,210.0 199.5,215.0 195.8,221.0 196.0,230.0 197.5,245.0 201.0,250.0 207.5,257.0 212.5,264.5 218.8,268.0 225.0,273.0 232.5,280.8 237.5,288.0 243.8,287.0 250.0,287.5 262.5,285.8 275.0,285.8 285.0,287.0 292.5,289.5 298.8,294.5 307.5,300.8 317.5,304.5 330.0,307.0 340.0,310.8 345.0,313.0 343.8,317.0 350.0,319.5 356.0,318.0 360.0,322.0 365.0,320.8 372.5,315.8 380.0,312.0 390.0,310.0 400.0,310.8 410.0,312.0 418.8,313.2 423.8,318.2 430.0,320.0 437.5,319.0 445.0,320.0 448.8,324.5 457.5,320.8 470.0,315.8 482.5,310.8 493.8,306.5 496.2,302.0 493.8,299.5 497.5,295.8 500.0,298.2 498.8,302.0 502.5,303.2 507.5,302.0 510.0,298.2 517.5,293.2 525.0,287.0 532.5,283.2 535.0,279.5 536.2,274.5 541.2,268.2 547.5,262.0 552.5,255.8 553.8,247.0 557.5,238.2 563.8,235.8 570.0,230.8 577.5,227.0 582.5,220.8 590.0,214.5 600.0,208.2 610.0,199.5 617.5,190.8 622.5,179.5 627.5,167.0 633.5,153.0 640.5,139.0 651.0,128.5 663.2,118.0 673.8,107.5 696.5,93.5 717.5,77.8 736.8,60.2 752.5,41.0 765.6,27.0" fill="none" stroke="#000" stroke-width="0.9"/>
<polyline points="557.5,238.2 555.0,233.0 551.2,227.0 553.0,212.0 551.2,197.0 553.8,189.5 560.0,183.2 567.5,179.5 568.8,174.5 575.0,169.5 582.5,163.2 583.8,162.0 580.0,157.0 572.5,153.2 562.5,150.8 552.5,143.2 545.0,134.5 542.5,124.5 537.5,117.0 536.2,112.0 530.0,110.8 525.0,105.8 520.0,104.5 513.8,100.8 508.8,101.5 500.0,95.8 490.0,88.2 482.5,77.0 475.0,72.0 465.0,68.2 453.8,64.5 445.0,58.2 441.2,55.0 437.5,57.0 430.0,54.5 425.0,49.5 421.2,44.5 417.5,38.2 410.0,30.8 406.2,27.0" fill="none" stroke="#000" stroke-width="0.9"/>
<polyline points="700.9,27.0 700.0,34.0 702.6,39.2 701.8,41.9 691.2,44.5 690.4,52.4 687.8,55.0 673.8,56.8 665.0,62.0 664.0,65.5 661.5,77.8 658.9,76.9 656.2,78.6 658.0,81.2 661.5,79.5 660.6,83.0 652.8,87.4 647.5,89.1 647.5,95.2 645.8,98.8 648.4,100.5 651.0,104.0 653.6,103.1 651.9,106.6 646.6,107.5 644.9,111.0 645.8,114.5 651.0,115.4 654.5,112.8 658.0,111.0 656.2,114.5 653.6,116.2 657.1,118.0 656.2,120.6 658.9,118.0 661.5,114.5" fill="none" stroke="#000" stroke-width="0.9"/>
<polyline points="737.6,27.0 736.8,37.5 735.9,44.5 737.6,45.4 740.2,42.8 738.5,41.0 735.9,41.0 728.0,41.0 725.4,44.5 725.9,53.2 724.5,60.2 720.1,67.2 714.0,72.5 707.0,74.2 704.4,71.6 706.1,74.2 702.6,77.8 702.6,81.2 700.0,78.6 696.5,83.0 689.5,88.2 682.5,92.6 676.4,94.4 675.5,96.1 672.0,97.0 668.5,98.8 661.5,96.1 658.0,96.1 657.1,98.8 659.8,99.6 665.0,99.6 673.8,97.0" fill="none" stroke="#000" stroke-width="0.9"/>
<polyline points="410.0,28.5 403.0,28.5 397.5,30.0 395.0,32.0 388.0,38.0 381.0,40.7 374.0,41.3" fill="none" stroke="#000" stroke-width="0.9"/>
<g clip-path="url(#pc)" font-family="Liberation Sans, sans-serif" font-size="12.5" fill="#8c8478"><text x="771" y="32.0" textLength="21" lengthAdjust="spacingAndGlyphs">31S</text><text x="771" y="104.7" textLength="21" lengthAdjust="spacingAndGlyphs">32S</text><text x="771" y="177.4" textLength="21" lengthAdjust="spacingAndGlyphs">33S</text><text x="771" y="250.1" textLength="21" lengthAdjust="spacingAndGlyphs">34S</text><text x="771" y="322.8" textLength="21" lengthAdjust="spacingAndGlyphs">35S</text><text x="771" y="395.5" textLength="21" lengthAdjust="spacingAndGlyphs">36S</text><text x="771" y="468.2" textLength="21" lengthAdjust="spacingAndGlyphs">37S</text><text x="771" y="540.9" textLength="21" lengthAdjust="spacingAndGlyphs">38S</text><text x="771" y="613.6" textLength="21" lengthAdjust="spacingAndGlyphs">39S</text><text x="771" y="686.3" textLength="21" lengthAdjust="spacingAndGlyphs">40S</text><text x="771" y="759.0" textLength="21" lengthAdjust="spacingAndGlyphs">41S</text><text transform="translate(14.0,743.5) rotate(90)" textLength="21" lengthAdjust="spacingAndGlyphs">61W</text><text transform="translate(86.7,743.5) rotate(90)" textLength="21" lengthAdjust="spacingAndGlyphs">60W</text><text transform="translate(159.4,743.5) rotate(90)" textLength="21" lengthAdjust="spacingAndGlyphs">59W</text><text transform="translate(232.2,743.5) rotate(90)" textLength="21" lengthAdjust="spacingAndGlyphs">58W</text><text transform="translate(304.9,743.5) rotate(90)" textLength="21" lengthAdjust="spacingAndGlyphs">57W</text><text transform="translate(377.6,743.5) rotate(90)" textLength="21" lengthAdjust="spacingAndGlyphs">56W</text><text transform="translate(450.3,743.5) rotate(90)" textLength="21" lengthAdjust="spacingAndGlyphs">55W</text><text transform="translate(523.0,743.5) rotate(90)" textLength="21" lengthAdjust="spacingAndGlyphs">54W</text><text transform="translate(595.8,743.5) rotate(90)" textLength="21" lengthAdjust="spacingAndGlyphs">53W</text><text transform="translate(668.5,743.5) rotate(90)" textLength="21" lengthAdjust="spacingAndGlyphs">52W</text><text transform="translate(741.2,743.5) rotate(90)" textLength="21" lengthAdjust="spacingAndGlyphs">51W</text></g>
<rect x="0" y="772" width="800" height="28" fill="#fff"/>
<path d="M1.5 27 v5 M1.5 773 v-5 M9.5 27 v5 M9.5 773 v-18 M16.5 27 v5 M16.5 773 v-5 M23.5 27 v5 M23.5 773 v-5 M30.5 27 v5 M30.5 773 v-5 M38.5 27 v5 M38.5 773 v-5 M45.5 27 v9 M45.5 773 v-9 M52.5 27 v5 M52.5 773 v-5 M59.5 27 v5 M59.5 773 v-5 M67.5 27 v5 M67.5 773 v-5 M74.5 27 v5 M74.5 773 v-5 M81.5 27 v18 M81.5 773 v-18 M88.5 27 v5 M88.5 773 v-5 M96.5 27 v5 M96.5 773 v-5 M103.5 27 v5 M103.5 773 v-5 M110.5 27 v5 M110.5 773 v-5 M118.5 27 v9 M118.5 773 v-9 M125.5 27 v5 M125.5 773 v-5 M132.5 27 v5 M132.5 773 v-5 M139.5 27 v5 M139.5 773 v-5 M147.5 27 v5 M147.5 773 v-5 M154.5 27 v18 M154.5 773 v-18 M161.5 27 v5 M161.5 773 v-5 M168.5 27 v5 M168.5 773 v-5 M176.5 27 v5 M176.5 773 v-5 M183.5 27 v5 M183.5 773 v-5 M190.5 27 v9 M190.5 773 v-9 M198.5 27 v5 M198.5 773 v-5 M205.5 27 v5 M205.5 773 v-5 M212.5 27 v5 M212.5 773 v-5 M219.5 27 v5 M219.5 773 v-5 M227.5 27 v18 M227.5 773 v-18 M234.5 27 v5 M234.5 773 v-5 M241.5 27 v5 M241.5 773 v-5 M248.5 27 v5 M248.5 773 v-5 M256.5 27 v5 M256.5 773 v-5 M263.5 27 v9 M263.5 773 v-9 M270.5 27 v5 M270.5 773 v-5 M278.5 27 v5 M278.5 773 v-5 M285.5 27 v5 M285.5 773 v-5 M292.5 27 v5 M292.5 773 v-5 M299.5 27 v18 M299.5 773 v-18 M307.5 27 v5 M307.5 773 v-5 M314.5 27 v5 M314.5 773 v-5 M321.5 27 v5 M321.5 773 v-5 M328.5 27 v5 M328.5 773 v-5 M336.5 27 v9 M336.5 773 v-9 M343.5 27 v5 M343.5 773 v-5 M350.5 27 v5 M350.5 773 v-5 M358.5 27 v5 M358.5 773 v-5 M365.5 27 v5 M365.5 773 v-5 M372.5 27 v18 M372.5 773 v-18 M379.5 27 v5 M379.5 773 v-5 M387.5 27 v5 M387.5 773 v-5 M394.5 27 v5 M394.5 773 v-5 M401.5 27 v5 M401.5 773 v-5 M408.5 27 v9 M408.5 773 v-9 M416.5 27 v5 M416.5 773 v-5 M423.5 27 v5 M423.5 773 v-5 M430.5 27 v5 M430.5 773 v-5 M438.5 27 v5 M438.5 773 v-5 M445.5 27 v18 M445.5 773 v-18 M452.5 27 v5 M452.5 773 v-5 M459.5 27 v5 M459.5 773 v-5 M467.5 27 v5 M467.5 773 v-5 M474.5 27 v5 M474.5 773 v-5 M481.5 27 v9 M481.5 773 v-9 M488.5 27 v5 M488.5 773 v-5 M496.5 27 v5 M496.5 773 v-5 M503.5 27 v5 M503.5 773 v-5 M510.5 27 v5 M510.5 773 v-5 M518.5 27 v18 M518.5 773 v-18 M525.5 27 v5 M525.5 773 v-5 M532.5 27 v5 M532.5 773 v-5 M539.5 27 v5 M539.5 773 v-5 M547.5 27 v5 M547.5 773 v-5 M554.5 27 v9 M554.5 773 v-9 M561.5 27 v5 M561.5 773 v-5 M568.5 27 v5 M568.5 773 v-5 M576.5 27 v5 M576.5 773 v-5 M583.5 27 v5 M583.5 773 v-5 M590.5 27 v18 M590.5 773 v-18 M598.5 27 v5 M598.5 773 v-5 M605.5 27 v5 M605.5 773 v-5 M612.5 27 v5 M612.5 773 v-5 M619.5 27 v5 M619.5 773 v-5 M627.5 27 v9 M627.5 773 v-9 M634.5 27 v5 M634.5 773 v-5 M641.5 27 v5 M641.5 773 v-5 M648.5 27 v5 M648.5 773 v-5 M656.5 27 v5 M656.5 773 v-5 M663.5 27 v18 M663.5 773 v-18 M670.5 27 v5 M670.5 773 v-5 M678.5 27 v5 M678.5 773 v-5 M685.5 27 v5 M685.5 773 v-5 M692.5 27 v5 M692.5 773 v-5 M699.5 27 v9 M699.5 773 v-9 M707.5 27 v5 M707.5 773 v-5 M714.5 27 v5 M714.5 773 v-5 M721.5 27 v5 M721.5 773 v-5 M728.5 27 v5 M728.5 773 v-5 M736.5 27 v18 M736.5 773 v-18 M743.5 27 v5 M743.5 773 v-5 M750.5 27 v5 M750.5 773 v-5 M758.5 27 v5 M758.5 773 v-5 M765.5 27 v5 M765.5 773 v-5 M772.5 27 v9 M772.5 773 v-9 M779.5 27 v5 M779.5 773 v-5 M787.5 27 v5 M787.5 773 v-5 M794.5 27 v5 M794.5 773 v-5 M0 36.5 h5 M800 36.5 h-5 M0 43.5 h5 M800 43.5 h-5 M0 51.5 h5 M800 51.5 h-5 M0 58.5 h5 M800 58.5 h-5 M0 65.5 h5 M800 65.5 h-5 M0 72.5 h9 M800 72.5 h-9 M0 80.5 h5 M800 80.5 h-5 M0 87.5 h5 M800 87.5 h-5 M0 94.5 h5 M800 94.5 h-5 M0 101.5 h5 M800 101.5 h-5 M0 109.5 h18 M800 109.5 h-18 M0 116.5 h5 M800 116.5 h-5 M0 123.5 h5 M800 123.5 h-5 M0 131.5 h5 M800 131.5 h-5 M0 138.5 h5 M800 138.5 h-5 M0 145.5 h9 M800 145.5 h-9 M0 152.5 h5 M800 152.5 h-5 M0 160.5 h5 M800 160.5 h-5 M0 167.5 h5 M800 167.5 h-5 M0 174.5 h5 M800 174.5 h-5 M0 181.5 h18 M800 181.5 h-18 M0 189.5 h5 M800 189.5 h-5 M0 196.5 h5 M800 196.5 h-5 M0 203.5 h5 M800 203.5 h-5 M0 210.5 h5 M800 210.5 h-5 M0 218.5 h9 M800 218.5 h-9 M0 225.5 h5 M800 225.5 h-5 M0 232.5 h5 M800 232.5 h-5 M0 240.5 h5 M800 240.5 h-5 M0 247.5 h5 M800 247.5 h-5 M0 254.5 h18 M800 254.5 h-18 M0 261.5 h5 M800 261.5 h-5 M0 269.5 h5 M800 269.5 h-5 M0 276.5 h5 M800 276.5 h-5 M0 283.5 h5 M800 283.5 h-5 M0 290.5 h9 M800 290.5 h-9 M0 298.5 h5 M800 298.5 h-5 M0 305.5 h5 M800 305.5 h-5 M0 312.5 h5 M800 312.5 h-5 M0 320.5 h5 M800 320.5 h-5 M0 327.5 h18 M800 327.5 h-18 M0 334.5 h5 M800 334.5 h-5 M0 341.5 h5 M800 341.5 h-5 M0 349.5 h5 M800 349.5 h-5 M0 356.5 h5 M800 356.5 h-5 M0 363.5 h9 M800 363.5 h-9 M0 370.5 h5 M800 370.5 h-5 M0 378.5 h5 M800 378.5 h-5 M0 385.5 h5 M800 385.5 h-5 M0 392.5 h5 M800 392.5 h-5 M0 400.5 h18 M800 400.5 h-18 M0 407.5 h5 M800 407.5 h-5 M0 414.5 h5 M800 414.5 h-5 M0 421.5 h5 M800 421.5 h-5 M0 429.5 h5 M800 429.5 h-5 M0 436.5 h9 M800 436.5 h-9 M0 443.5 h5 M800 443.5 h-5 M0 450.5 h5 M800 450.5 h-5 M0 458.5 h5 M800 458.5 h-5 M0 465.5 h5 M800 465.5 h-5 M0 472.5 h18 M800 472.5 h-18 M0 479.5 h5 M800 479.5 h-5 M0 487.5 h5 M800 487.5 h-5 M0 494.5 h5 M800 494.5 h-5 M0 501.5 h5 M800 501.5 h-5 M0 509.5 h9 M800 509.5 h-9 M0 516.5 h5 M800 516.5 h-5 M0 523.5 h5 M800 523.5 h-5 M0 530.5 h5 M800 530.5 h-5 M0 538.5 h5 M800 538.5 h-5 M0 545.5 h18 M800 545.5 h-18 M0 552.5 h5 M800 552.5 h-5 M0 559.5 h5 M800 559.5 h-5 M0 567.5 h5 M800 567.5 h-5 M0 574.5 h5 M800 574.5 h-5 M0 581.5 h9 M800 581.5 h-9 M0 589.5 h5 M800 589.5 h-5 M0 596.5 h5 M800 596.5 h-5 M0 603.5 h5 M800 603.5 h-5 M0 610.5 h5 M800 610.5 h-5 M0 618.5 h18 M800 618.5 h-18 M0 625.5 h5 M800 625.5 h-5 M0 632.5 h5 M800 632.5 h-5 M0 639.5 h5 M800 639.5 h-5 M0 647.5 h5 M800 647.5 h-5 M0 654.5 h9 M800 654.5 h-9 M0 661.5 h5 M800 661.5 h-5 M0 668.5 h5 M800 668.5 h-5 M0 676.5 h5 M800 676.5 h-5 M0 683.5 h5 M800 683.5 h-5 M0 690.5 h18 M800 690.5 h-18 M0 698.5 h5 M800 698.5 h-5 M0 705.5 h5 M800 705.5 h-5 M0 712.5 h5 M800 712.5 h-5 M0 719.5 h5 M800 719.5 h-5 M0 727.5 h9 M800 727.5 h-9 M0 734.5 h5 M800 734.5 h-5 M0 741.5 h5 M800 741.5 h-5 M0 748.5 h5 M800 748.5 h-5 M0 756.5 h5 M800 756.5 h-5 M0 763.5 h18 M800 763.5 h-18 M0 770.5 h5 M800 770.5 h-5" stroke="#000" stroke-width="1" fill="none" shape-rendering="crispEdges"/>
<path d="M0 27.5 H800 M0.5 27 V772" fill="none" stroke="#000" stroke-width="1" shape-rendering="crispEdges"/>
<defs><linearGradient id="cb" x1="0" y1="0" x2="0" y2="1">
<stop offset="0" stop-color="#c00080"/>
<stop offset="0.16" stop-color="#ff0000"/>
<stop offset="0.32" stop-color="#ff8000"/>
<stop offset="0.465" stop-color="#ffff00"/>
<stop offset="0.60" stop-color="#00ec00"/>
<stop offset="0.735" stop-color="#00ffff"/>
<stop offset="1" stop-color="#0000ff"/>
</linearGradient></defs>
<rect x="32" y="160" width="49" height="608" fill="#000" shape-rendering="crispEdges"/>
<rect x="33" y="161" width="47" height="606" fill="#fff" shape-rendering="crispEdges"/><rect x="34" y="162" width="45" height="604" fill="url(#cb)" shape-rendering="crispEdges"/>
<g font-family="Liberation Sans, sans-serif" font-size="15" fill="#000"><text x="86" y="164.5" textLength="18" lengthAdjust="spacingAndGlyphs">30</text><text x="86" y="316.5" textLength="18" lengthAdjust="spacingAndGlyphs">22</text><text x="86" y="468.5" textLength="18" lengthAdjust="spacingAndGlyphs">15</text><text x="86" y="620.5" textLength="9" lengthAdjust="spacingAndGlyphs">8</text><text x="86" y="772.5" textLength="9" lengthAdjust="spacingAndGlyphs">0</text><text x="35" y="148" textLength="43" lengthAdjust="spacingAndGlyphs">[m/s]</text></g>
<g font-family="Liberation Sans, sans-serif" font-weight="bold" font-size="26" fill="#808080" stroke="#808080" stroke-width="0.4">
<text x="5.3" y="49.5" textLength="102.2" lengthAdjust="spacingAndGlyphs">modelo</text>
<text x="120.3" y="49.5" textLength="164.7" lengthAdjust="spacingAndGlyphs">GEFS-WAVE</text>
<text x="295.3" y="49.5" textLength="92.2" lengthAdjust="spacingAndGlyphs">(NCEP)</text>
<text x="5.3" y="72.5" textLength="112.2" lengthAdjust="spacingAndGlyphs">forecast</text>
<text x="131.3" y="72.5" textLength="71.2" lengthAdjust="spacingAndGlyphs">date:</text>
<text x="215.3" y="72.5" textLength="152.2" lengthAdjust="spacingAndGlyphs">2025-12-08</text>
<text x="375.3" y="72.5" textLength="123.7" lengthAdjust="spacingAndGlyphs">12:00:00</text>
<text x="41.6" y="95.5" textLength="65.9" lengthAdjust="spacingAndGlyphs">valid</text>
<text x="122.8" y="95.5" textLength="69.7" lengthAdjust="spacingAndGlyphs">date:</text>
<text x="204.3" y="95.5" textLength="153.2" lengthAdjust="spacingAndGlyphs">2025-12-13</text>
<text x="365.3" y="95.5" textLength="122.7" lengthAdjust="spacingAndGlyphs">09:00:00</text>
</g>
</svg></body></html>
